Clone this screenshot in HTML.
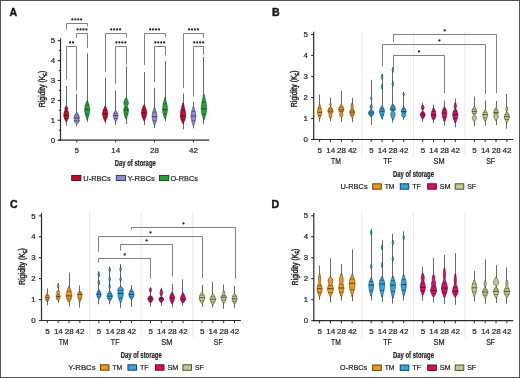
<!DOCTYPE html>
<html><head><meta charset="utf-8"><style>
html,body{margin:0;padding:0;background:#fff;width:520px;height:378px;overflow:hidden}
svg{display:block;will-change:transform}
text{font-family:"Liberation Sans",sans-serif;stroke:#262626;stroke-width:0.22px}
</style></head><body>
<svg width="520" height="378" viewBox="0 0 520 378">
<rect x="0" y="0" width="520" height="378" fill="#ffffff"/>
<line x1="60.5" y1="38.2" x2="60.5" y2="140.8" stroke="#2b2b2b" stroke-width="1.2"/>
<line x1="57.7" y1="140.2" x2="60.5" y2="140.2" stroke="#2b2b2b" stroke-width="1.1"/>
<text x="55" y="142.95" font-size="7.8" text-anchor="end" font-weight="normal" fill="#262626">0</text>
<line x1="57.7" y1="120.3" x2="60.5" y2="120.3" stroke="#2b2b2b" stroke-width="1.1"/>
<text x="55" y="123.05" font-size="7.8" text-anchor="end" font-weight="normal" fill="#262626">1</text>
<line x1="57.7" y1="100.4" x2="60.5" y2="100.4" stroke="#2b2b2b" stroke-width="1.1"/>
<text x="55" y="103.15" font-size="7.8" text-anchor="end" font-weight="normal" fill="#262626">2</text>
<line x1="57.7" y1="80.5" x2="60.5" y2="80.5" stroke="#2b2b2b" stroke-width="1.1"/>
<text x="55" y="83.25" font-size="7.8" text-anchor="end" font-weight="normal" fill="#262626">3</text>
<line x1="57.7" y1="60.6" x2="60.5" y2="60.6" stroke="#2b2b2b" stroke-width="1.1"/>
<text x="55" y="63.35" font-size="7.8" text-anchor="end" font-weight="normal" fill="#262626">4</text>
<line x1="57.7" y1="40.7" x2="60.5" y2="40.7" stroke="#2b2b2b" stroke-width="1.1"/>
<text x="55" y="43.45" font-size="7.8" text-anchor="end" font-weight="normal" fill="#262626">5</text>
<line x1="58.9" y1="130.25" x2="60.5" y2="130.25" stroke="#2b2b2b" stroke-width="1"/>
<line x1="58.9" y1="110.35" x2="60.5" y2="110.35" stroke="#2b2b2b" stroke-width="1"/>
<line x1="58.9" y1="90.45" x2="60.5" y2="90.45" stroke="#2b2b2b" stroke-width="1"/>
<line x1="58.9" y1="70.55" x2="60.5" y2="70.55" stroke="#2b2b2b" stroke-width="1"/>
<line x1="58.9" y1="50.65" x2="60.5" y2="50.65" stroke="#2b2b2b" stroke-width="1"/>
<line x1="58.2" y1="140.2" x2="209.3" y2="140.2" stroke="#2b2b2b" stroke-width="1.2"/>
<line x1="76.75" y1="140.2" x2="76.75" y2="142.4" stroke="#2b2b2b" stroke-width="1"/>
<text x="76.75" y="153.1" font-size="8" text-anchor="middle" font-weight="normal" fill="#262626">5</text>
<line x1="115.65" y1="140.2" x2="115.65" y2="142.4" stroke="#2b2b2b" stroke-width="1"/>
<text x="115.65" y="153.1" font-size="8" text-anchor="middle" font-weight="normal" fill="#262626">14</text>
<line x1="154.55" y1="140.2" x2="154.55" y2="142.4" stroke="#2b2b2b" stroke-width="1"/>
<text x="154.55" y="153.1" font-size="8" text-anchor="middle" font-weight="normal" fill="#262626">28</text>
<line x1="193.45" y1="140.2" x2="193.45" y2="142.4" stroke="#2b2b2b" stroke-width="1"/>
<text x="193.45" y="153.1" font-size="8" text-anchor="middle" font-weight="normal" fill="#262626">42</text>
<text x="135.3" y="165.5" font-size="8.9" text-anchor="middle" font-weight="bold" fill="#262626" textLength="41" lengthAdjust="spacingAndGlyphs">Day of storage</text>
<text transform="translate(45.0,89.0) rotate(-90)" font-size="8.8" text-anchor="middle" fill="#262626" style="stroke-width:0.4px" textLength="36.5" lengthAdjust="spacingAndGlyphs">Rigidity (K<tspan font-size="5" dy="1.5">E</tspan><tspan dy="-1.5">)</tspan></text>
<text x="9.4" y="15.9" font-size="10.6" text-anchor="start" font-weight="bold" fill="#111" style="stroke-width:0.45px">A</text>
<line x1="66.5" y1="86" x2="66.5" y2="125.5" stroke="#585858" stroke-width="0.9"/>
<path d="M66.6,106.1 L66.9,106.6 L67.2,107.1 L67.5,107.6 L67.7,108.1 L67.7,108.6 L67.7,109.1 L67.7,109.6 L67.6,110.1 L67.7,110.6 L67.9,111.1 L68.1,111.6 L68.3,112.1 L68.4,112.6 L68.6,113.1 L68.7,113.6 L68.8,114.1 L68.8,114.6 L68.8,115.1 L68.8,115.6 L68.8,116.1 L68.7,116.6 L68.6,117.1 L68.5,117.6 L68.3,118.1 L68.1,118.6 L67.9,119.1 L67.7,119.6 L67.4,120.1 L67.2,120.6 L67.0,121.1 L66.7,121.6 L65.9,121.6 L65.6,121.1 L65.4,120.6 L65.2,120.1 L64.9,119.6 L64.7,119.1 L64.5,118.6 L64.3,118.1 L64.1,117.6 L64.0,117.1 L63.9,116.6 L63.8,116.1 L63.8,115.6 L63.8,115.1 L63.8,114.6 L63.8,114.1 L63.9,113.6 L64.0,113.1 L64.2,112.6 L64.3,112.1 L64.5,111.6 L64.7,111.1 L64.9,110.6 L65.0,110.1 L64.9,109.6 L64.9,109.1 L64.9,108.6 L64.9,108.1 L65.1,107.6 L65.4,107.1 L65.7,106.6 L66.0,106.1Z" fill="#c40d2c" stroke="#4a0612" stroke-width="0.62" stroke-linejoin="round"/>
<line x1="64.44" y1="111.8" x2="68.16" y2="111.8" stroke="#4a0612" stroke-width="0.55"/>
<line x1="63.75" y1="115.4" x2="68.85" y2="115.4" stroke="#4a0612" stroke-width="0.85"/>
<line x1="64.44" y1="118.55" x2="68.16" y2="118.55" stroke="#4a0612" stroke-width="0.55"/>
<line x1="76.5" y1="93.9" x2="76.5" y2="126.4" stroke="#585858" stroke-width="0.9"/>
<path d="M77.1,112.4 L77.3,112.9 L77.6,113.4 L77.9,113.9 L78.2,114.4 L78.5,114.9 L78.7,115.4 L78.9,115.9 L79.1,116.4 L79.2,116.9 L79.3,117.4 L79.3,117.9 L79.3,118.4 L79.2,118.9 L79.1,119.4 L79.2,119.9 L79.3,120.4 L79.3,120.9 L79.1,121.4 L78.9,121.9 L78.5,122.4 L78.1,122.9 L77.7,123.4 L77.2,123.9 L76.3,123.9 L75.8,123.4 L75.4,122.9 L75.0,122.4 L74.6,121.9 L74.4,121.4 L74.2,120.9 L74.2,120.4 L74.3,119.9 L74.4,119.4 L74.3,118.9 L74.2,118.4 L74.2,117.9 L74.2,117.4 L74.3,116.9 L74.4,116.4 L74.6,115.9 L74.8,115.4 L75.0,114.9 L75.3,114.4 L75.6,113.9 L75.9,113.4 L76.2,112.9 L76.4,112.4Z" fill="#8e8ed6" stroke="#30305a" stroke-width="0.62" stroke-linejoin="round"/>
<line x1="74.89" y1="115.2" x2="78.61" y2="115.2" stroke="#30305a" stroke-width="0.55"/>
<line x1="74.2" y1="117.9" x2="79.3" y2="117.9" stroke="#30305a" stroke-width="0.85"/>
<line x1="74.22" y1="120.83" x2="79.28" y2="120.83" stroke="#30305a" stroke-width="0.55"/>
<line x1="87.5" y1="53.3" x2="87.5" y2="121.9" stroke="#585858" stroke-width="0.9"/>
<path d="M87.6,100.9 L87.7,101.4 L87.9,101.9 L88.1,102.4 L88.3,102.9 L88.4,103.4 L88.6,103.9 L88.8,104.4 L88.9,104.9 L89.1,105.4 L89.2,105.9 L89.3,106.4 L89.4,106.9 L89.5,107.4 L89.6,107.9 L89.6,108.4 L89.6,108.9 L89.6,109.4 L89.6,109.9 L89.6,110.4 L89.6,110.9 L89.5,111.4 L89.5,111.9 L89.4,112.4 L89.3,112.9 L89.2,113.4 L89.1,113.9 L89.0,114.4 L88.8,114.9 L88.7,115.4 L88.6,115.9 L88.4,116.4 L88.3,116.9 L88.1,117.4 L88.0,117.9 L87.8,118.4 L87.7,118.9 L87.6,119.4 L86.8,119.4 L86.7,118.9 L86.6,118.4 L86.4,117.9 L86.3,117.4 L86.1,116.9 L86.0,116.4 L85.8,115.9 L85.7,115.4 L85.6,114.9 L85.4,114.4 L85.3,113.9 L85.2,113.4 L85.1,112.9 L85.0,112.4 L84.9,111.9 L84.9,111.4 L84.8,110.9 L84.8,110.4 L84.8,109.9 L84.7,109.4 L84.8,108.9 L84.8,108.4 L84.8,107.9 L84.9,107.4 L85.0,106.9 L85.1,106.4 L85.2,105.9 L85.3,105.4 L85.5,104.9 L85.6,104.4 L85.8,103.9 L86.0,103.4 L86.1,102.9 L86.3,102.4 L86.5,101.9 L86.7,101.4 L86.8,100.9Z" fill="#22a33a" stroke="#0b4014" stroke-width="0.62" stroke-linejoin="round"/>
<line x1="85.42" y1="105.12" x2="88.98" y2="105.12" stroke="#0b4014" stroke-width="0.55"/>
<line x1="84.75" y1="109.4" x2="89.65" y2="109.4" stroke="#0b4014" stroke-width="0.85"/>
<line x1="85.42" y1="114.35" x2="88.98" y2="114.35" stroke="#0b4014" stroke-width="0.55"/>
<line x1="105.5" y1="77.6" x2="105.5" y2="123.5" stroke="#585858" stroke-width="0.9"/>
<path d="M105.6,106.3 L105.8,106.8 L106.0,107.3 L106.2,107.8 L106.4,108.3 L106.6,108.8 L106.8,109.3 L107.0,109.8 L107.2,110.3 L107.3,110.8 L107.4,111.3 L107.6,111.8 L107.6,112.3 L107.7,112.8 L107.7,113.3 L107.7,113.8 L107.7,114.3 L107.7,114.8 L107.6,115.3 L107.6,115.8 L107.4,116.3 L107.3,116.8 L107.2,117.3 L107.0,117.8 L106.8,118.3 L106.6,118.8 L106.4,119.3 L106.2,119.8 L106.0,120.3 L105.8,120.8 L105.6,121.3 L104.8,121.3 L104.6,120.8 L104.4,120.3 L104.2,119.8 L104.0,119.3 L103.8,118.8 L103.6,118.3 L103.4,117.8 L103.2,117.3 L103.1,116.8 L103.0,116.3 L102.8,115.8 L102.8,115.3 L102.7,114.8 L102.7,114.3 L102.6,113.8 L102.7,113.3 L102.7,112.8 L102.8,112.3 L102.8,111.8 L103.0,111.3 L103.1,110.8 L103.2,110.3 L103.4,109.8 L103.6,109.3 L103.8,108.8 L104.0,108.3 L104.2,107.8 L104.4,107.3 L104.6,106.8 L104.8,106.3Z" fill="#c40d2c" stroke="#4a0612" stroke-width="0.62" stroke-linejoin="round"/>
<line x1="103.34" y1="109.97" x2="107.06" y2="109.97" stroke="#4a0612" stroke-width="0.55"/>
<line x1="102.65" y1="113.8" x2="107.75" y2="113.8" stroke="#4a0612" stroke-width="0.85"/>
<line x1="103.34" y1="117.62" x2="107.06" y2="117.62" stroke="#4a0612" stroke-width="0.55"/>
<line x1="115.5" y1="90.6" x2="115.5" y2="124.9" stroke="#585858" stroke-width="0.9"/>
<path d="M116.0,110.6 L116.2,111.1 L116.5,111.6 L116.8,112.1 L117.1,112.6 L117.3,113.1 L117.6,113.6 L117.8,114.1 L117.9,114.6 L118.0,115.1 L118.0,115.6 L118.0,116.1 L117.9,116.6 L117.8,117.1 L117.7,117.6 L117.5,118.1 L117.3,118.6 L117.1,119.1 L116.9,119.6 L116.6,120.1 L116.4,120.6 L116.2,121.1 L116.0,121.6 L115.3,121.6 L115.1,121.1 L114.9,120.6 L114.7,120.1 L114.4,119.6 L114.2,119.1 L114.0,118.6 L113.8,118.1 L113.6,117.6 L113.5,117.1 L113.4,116.6 L113.3,116.1 L113.3,115.6 L113.3,115.1 L113.4,114.6 L113.5,114.1 L113.7,113.6 L114.0,113.1 L114.2,112.6 L114.5,112.1 L114.8,111.6 L115.1,111.1 L115.3,110.6Z" fill="#8e8ed6" stroke="#30305a" stroke-width="0.62" stroke-linejoin="round"/>
<line x1="113.94" y1="113.12" x2="117.36" y2="113.12" stroke="#30305a" stroke-width="0.55"/>
<line x1="113.3" y1="115.6" x2="118" y2="115.6" stroke="#30305a" stroke-width="0.85"/>
<line x1="113.94" y1="118.52" x2="117.36" y2="118.52" stroke="#30305a" stroke-width="0.55"/>
<line x1="126.5" y1="66.5" x2="126.5" y2="124" stroke="#585858" stroke-width="0.9"/>
<path d="M126.6,98.0 L126.8,98.5 L127.0,99.0 L127.3,99.5 L127.5,100.0 L127.7,100.5 L127.9,101.0 L128.1,101.5 L128.2,102.0 L128.3,102.5 L128.3,103.0 L128.3,103.5 L128.3,104.0 L128.2,104.5 L127.9,105.0 L127.6,105.5 L127.3,106.0 L127.2,106.5 L127.4,107.0 L127.7,107.5 L127.9,108.0 L128.2,108.5 L128.3,109.0 L128.4,109.5 L128.4,110.0 L128.4,110.5 L128.4,111.0 L128.4,111.5 L128.3,112.0 L128.2,112.5 L128.2,113.0 L128.1,113.5 L127.9,114.0 L127.8,114.5 L127.7,115.0 L127.5,115.5 L127.4,116.0 L127.2,116.5 L127.1,117.0 L126.9,117.5 L126.8,118.0 L126.6,118.5 L126.5,119.0 L125.7,119.0 L125.6,118.5 L125.4,118.0 L125.3,117.5 L125.1,117.0 L125.0,116.5 L124.8,116.0 L124.7,115.5 L124.5,115.0 L124.4,114.5 L124.3,114.0 L124.1,113.5 L124.0,113.0 L124.0,112.5 L123.9,112.0 L123.8,111.5 L123.8,111.0 L123.8,110.5 L123.8,110.0 L123.8,109.5 L123.9,109.0 L124.0,108.5 L124.3,108.0 L124.5,107.5 L124.8,107.0 L125.0,106.5 L124.9,106.0 L124.6,105.5 L124.3,105.0 L124.0,104.5 L123.9,104.0 L123.8,103.5 L123.9,103.0 L123.9,102.5 L124.0,102.0 L124.1,101.5 L124.3,101.0 L124.5,100.5 L124.7,100.0 L124.9,99.5 L125.2,99.0 L125.4,98.5 L125.6,98.0Z" fill="#22a33a" stroke="#0b4014" stroke-width="0.62" stroke-linejoin="round"/>
<line x1="124.39" y1="107.75" x2="127.81" y2="107.75" stroke="#0b4014" stroke-width="0.55"/>
<line x1="123.75" y1="110" x2="128.45" y2="110" stroke="#0b4014" stroke-width="0.85"/>
<line x1="124.39" y1="114.5" x2="127.81" y2="114.5" stroke="#0b4014" stroke-width="0.55"/>
<line x1="144.5" y1="72" x2="144.5" y2="125.2" stroke="#585858" stroke-width="0.9"/>
<path d="M144.5,105.1 L144.7,105.6 L144.9,106.1 L145.1,106.6 L145.3,107.1 L145.4,107.6 L145.6,108.1 L145.8,108.6 L146.0,109.1 L146.1,109.6 L146.3,110.1 L146.4,110.6 L146.5,111.1 L146.5,111.6 L146.6,112.1 L146.6,112.6 L146.7,113.1 L146.6,113.6 L146.6,114.1 L146.5,114.6 L146.5,115.1 L146.3,115.6 L146.2,116.1 L146.1,116.6 L145.9,117.1 L145.7,117.6 L145.5,118.1 L145.3,118.6 L145.1,119.1 L144.9,119.6 L144.7,120.1 L144.5,120.6 L143.7,120.6 L143.5,120.1 L143.3,119.6 L143.1,119.1 L142.9,118.6 L142.7,118.1 L142.5,117.6 L142.3,117.1 L142.1,116.6 L142.0,116.1 L141.9,115.6 L141.7,115.1 L141.7,114.6 L141.6,114.1 L141.6,113.6 L141.5,113.1 L141.6,112.6 L141.6,112.1 L141.7,111.6 L141.7,111.1 L141.8,110.6 L141.9,110.1 L142.1,109.6 L142.2,109.1 L142.4,108.6 L142.6,108.1 L142.8,107.6 L142.9,107.1 L143.1,106.6 L143.3,106.1 L143.5,105.6 L143.7,105.1Z" fill="#c40d2c" stroke="#4a0612" stroke-width="0.62" stroke-linejoin="round"/>
<line x1="142.24" y1="109.05" x2="145.96" y2="109.05" stroke="#4a0612" stroke-width="0.55"/>
<line x1="141.55" y1="113.1" x2="146.65" y2="113.1" stroke="#4a0612" stroke-width="0.85"/>
<line x1="142.24" y1="116.92" x2="145.96" y2="116.92" stroke="#4a0612" stroke-width="0.55"/>
<line x1="154.5" y1="88.1" x2="154.5" y2="128.2" stroke="#585858" stroke-width="0.9"/>
<path d="M154.9,107.6 L155.1,108.1 L155.2,108.6 L155.4,109.1 L155.5,109.6 L155.7,110.1 L155.8,110.6 L156.0,111.1 L156.1,111.6 L156.3,112.1 L156.4,112.6 L156.5,113.1 L156.6,113.6 L156.7,114.1 L156.8,114.6 L156.8,115.1 L156.9,115.6 L156.9,116.1 L156.9,116.6 L156.9,117.1 L156.9,117.6 L156.8,118.1 L156.8,118.6 L156.7,119.1 L156.6,119.6 L156.5,120.1 L156.3,120.6 L156.2,121.1 L156.0,121.6 L155.9,122.1 L155.7,122.6 L155.6,123.1 L155.4,123.6 L155.2,124.1 L155.1,124.6 L154.9,125.1 L154.2,125.1 L154.0,124.6 L153.9,124.1 L153.7,123.6 L153.5,123.1 L153.4,122.6 L153.2,122.1 L153.1,121.6 L152.9,121.1 L152.8,120.6 L152.6,120.1 L152.5,119.6 L152.4,119.1 L152.3,118.6 L152.3,118.1 L152.2,117.6 L152.2,117.1 L152.2,116.6 L152.2,116.1 L152.2,115.6 L152.3,115.1 L152.3,114.6 L152.4,114.1 L152.5,113.6 L152.6,113.1 L152.7,112.6 L152.8,112.1 L153.0,111.6 L153.1,111.1 L153.3,110.6 L153.4,110.1 L153.6,109.6 L153.7,109.1 L153.9,108.6 L154.0,108.1 L154.2,107.6Z" fill="#8e8ed6" stroke="#30305a" stroke-width="0.62" stroke-linejoin="round"/>
<line x1="152.84" y1="112.1" x2="156.26" y2="112.1" stroke="#30305a" stroke-width="0.55"/>
<line x1="152.2" y1="116.6" x2="156.9" y2="116.6" stroke="#30305a" stroke-width="0.85"/>
<line x1="152.84" y1="120.88" x2="156.26" y2="120.88" stroke="#30305a" stroke-width="0.55"/>
<line x1="165.5" y1="61.3" x2="165.5" y2="121.2" stroke="#585858" stroke-width="0.9"/>
<path d="M165.3,97.6 L165.4,98.1 L165.5,98.6 L165.6,99.1 L165.7,99.6 L165.9,100.1 L166.0,100.6 L166.1,101.1 L166.2,101.6 L166.3,102.1 L166.5,102.6 L166.6,103.1 L166.7,103.6 L166.8,104.1 L166.9,104.6 L167.0,105.1 L167.0,105.6 L167.1,106.1 L167.2,106.6 L167.2,107.1 L167.3,107.6 L167.3,108.1 L167.3,108.6 L167.3,109.1 L167.3,109.6 L167.3,110.1 L167.3,110.6 L167.3,111.1 L167.2,111.6 L167.1,112.1 L167.1,112.6 L167.0,113.1 L166.8,113.6 L166.7,114.1 L166.6,114.6 L166.4,115.1 L166.3,115.6 L166.1,116.1 L166.0,116.6 L165.8,117.1 L165.7,117.6 L165.5,118.1 L165.4,118.6 L164.6,118.6 L164.5,118.1 L164.3,117.6 L164.2,117.1 L164.0,116.6 L163.9,116.1 L163.7,115.6 L163.6,115.1 L163.4,114.6 L163.3,114.1 L163.2,113.6 L163.0,113.1 L162.9,112.6 L162.9,112.1 L162.8,111.6 L162.7,111.1 L162.7,110.6 L162.7,110.1 L162.7,109.6 L162.7,109.1 L162.7,108.6 L162.7,108.1 L162.7,107.6 L162.8,107.1 L162.8,106.6 L162.9,106.1 L163.0,105.6 L163.0,105.1 L163.1,104.6 L163.2,104.1 L163.3,103.6 L163.4,103.1 L163.5,102.6 L163.7,102.1 L163.8,101.6 L163.9,101.1 L164.0,100.6 L164.1,100.1 L164.3,99.6 L164.4,99.1 L164.5,98.6 L164.6,98.1 L164.7,97.6Z" fill="#22a33a" stroke="#0b4014" stroke-width="0.62" stroke-linejoin="round"/>
<line x1="163.29" y1="103.75" x2="166.71" y2="103.75" stroke="#0b4014" stroke-width="0.55"/>
<line x1="162.65" y1="109.6" x2="167.35" y2="109.6" stroke="#0b4014" stroke-width="0.85"/>
<line x1="163.29" y1="114.1" x2="166.71" y2="114.1" stroke="#0b4014" stroke-width="0.55"/>
<line x1="183.5" y1="93.5" x2="183.5" y2="129.4" stroke="#585858" stroke-width="0.9"/>
<path d="M183.3,103.1 L183.4,103.6 L183.5,104.1 L183.7,104.6 L183.8,105.1 L183.9,105.6 L184.0,106.1 L184.2,106.6 L184.3,107.1 L184.4,107.6 L184.5,108.1 L184.7,108.6 L184.8,109.1 L184.9,109.6 L185.0,110.1 L185.1,110.6 L185.2,111.1 L185.3,111.6 L185.3,112.1 L185.4,112.6 L185.5,113.1 L185.5,113.6 L185.6,114.1 L185.6,114.6 L185.6,115.1 L185.6,115.6 L185.7,116.1 L185.6,116.6 L185.6,117.1 L185.5,117.6 L185.4,118.1 L185.3,118.6 L185.1,119.1 L185.0,119.6 L184.8,120.1 L184.6,120.6 L184.4,121.1 L184.1,121.6 L183.9,122.1 L183.7,122.6 L183.5,123.1 L183.3,123.6 L182.7,123.6 L182.5,123.1 L182.3,122.6 L182.1,122.1 L181.9,121.6 L181.6,121.1 L181.4,120.6 L181.2,120.1 L181.0,119.6 L180.9,119.1 L180.7,118.6 L180.6,118.1 L180.5,117.6 L180.4,117.1 L180.4,116.6 L180.3,116.1 L180.4,115.6 L180.4,115.1 L180.4,114.6 L180.4,114.1 L180.5,113.6 L180.5,113.1 L180.6,112.6 L180.7,112.1 L180.7,111.6 L180.8,111.1 L180.9,110.6 L181.0,110.1 L181.1,109.6 L181.2,109.1 L181.3,108.6 L181.5,108.1 L181.6,107.6 L181.7,107.1 L181.8,106.6 L182.0,106.1 L182.1,105.6 L182.2,105.1 L182.3,104.6 L182.5,104.1 L182.6,103.6 L182.7,103.1Z" fill="#c40d2c" stroke="#4a0612" stroke-width="0.62" stroke-linejoin="round"/>
<line x1="181.07" y1="109.8" x2="184.93" y2="109.8" stroke="#4a0612" stroke-width="0.55"/>
<line x1="180.35" y1="116.1" x2="185.65" y2="116.1" stroke="#4a0612" stroke-width="0.85"/>
<line x1="181.07" y1="119.7" x2="184.93" y2="119.7" stroke="#4a0612" stroke-width="0.55"/>
<line x1="193.5" y1="101.6" x2="193.5" y2="128.3" stroke="#585858" stroke-width="0.9"/>
<path d="M193.8,106.6 L193.9,107.1 L194.1,107.6 L194.2,108.1 L194.4,108.6 L194.5,109.1 L194.7,109.6 L194.8,110.1 L195.0,110.6 L195.1,111.1 L195.2,111.6 L195.3,112.1 L195.4,112.6 L195.5,113.1 L195.6,113.6 L195.7,114.1 L195.7,114.6 L195.8,115.1 L195.8,115.6 L195.8,116.1 L195.8,116.6 L195.8,117.1 L195.7,117.6 L195.7,118.1 L195.6,118.6 L195.5,119.1 L195.4,119.6 L195.3,120.1 L195.2,120.6 L195.1,121.1 L195.0,121.6 L194.8,122.1 L194.7,122.6 L194.5,123.1 L194.4,123.6 L194.2,124.1 L194.1,124.6 L193.9,125.1 L193.8,125.6 L193.1,125.6 L193.0,125.1 L192.8,124.6 L192.7,124.1 L192.5,123.6 L192.4,123.1 L192.2,122.6 L192.1,122.1 L191.9,121.6 L191.8,121.1 L191.7,120.6 L191.6,120.1 L191.5,119.6 L191.4,119.1 L191.3,118.6 L191.2,118.1 L191.2,117.6 L191.1,117.1 L191.1,116.6 L191.1,116.1 L191.1,115.6 L191.1,115.1 L191.2,114.6 L191.2,114.1 L191.3,113.6 L191.4,113.1 L191.5,112.6 L191.6,112.1 L191.7,111.6 L191.8,111.1 L191.9,110.6 L192.1,110.1 L192.2,109.6 L192.4,109.1 L192.5,108.6 L192.7,108.1 L192.8,107.6 L193.0,107.1 L193.1,106.6Z" fill="#8e8ed6" stroke="#30305a" stroke-width="0.62" stroke-linejoin="round"/>
<line x1="191.74" y1="111.38" x2="195.16" y2="111.38" stroke="#30305a" stroke-width="0.55"/>
<line x1="191.1" y1="116.1" x2="195.8" y2="116.1" stroke="#30305a" stroke-width="0.85"/>
<line x1="191.74" y1="120.82" x2="195.16" y2="120.82" stroke="#30305a" stroke-width="0.55"/>
<line x1="203.5" y1="57" x2="203.5" y2="124.4" stroke="#585858" stroke-width="0.9"/>
<path d="M204.2,94.4 L204.3,94.9 L204.4,95.4 L204.5,95.9 L204.6,96.4 L204.7,96.9 L204.8,97.4 L205.0,97.9 L205.1,98.4 L205.2,98.9 L205.3,99.4 L205.4,99.9 L205.5,100.4 L205.6,100.9 L205.7,101.4 L205.8,101.9 L205.9,102.4 L206.0,102.9 L206.1,103.4 L206.2,103.9 L206.2,104.4 L206.3,104.9 L206.4,105.4 L206.4,105.9 L206.5,106.4 L206.5,106.9 L206.5,107.4 L206.5,107.9 L206.5,108.4 L206.6,108.9 L206.5,109.4 L206.5,109.9 L206.5,110.4 L206.4,110.9 L206.4,111.4 L206.3,111.9 L206.2,112.4 L206.1,112.9 L206.0,113.4 L205.9,113.9 L205.7,114.4 L205.6,114.9 L205.5,115.4 L205.3,115.9 L205.2,116.4 L205.0,116.9 L204.8,117.4 L204.7,117.9 L204.5,118.4 L204.4,118.9 L204.3,119.4 L203.5,119.4 L203.4,118.9 L203.3,118.4 L203.1,117.9 L203.0,117.4 L202.8,116.9 L202.6,116.4 L202.5,115.9 L202.3,115.4 L202.2,114.9 L202.1,114.4 L201.9,113.9 L201.8,113.4 L201.7,112.9 L201.6,112.4 L201.5,111.9 L201.4,111.4 L201.4,110.9 L201.3,110.4 L201.3,109.9 L201.3,109.4 L201.2,108.9 L201.3,108.4 L201.3,107.9 L201.3,107.4 L201.3,106.9 L201.3,106.4 L201.4,105.9 L201.4,105.4 L201.5,104.9 L201.6,104.4 L201.6,103.9 L201.7,103.4 L201.8,102.9 L201.9,102.4 L202.0,101.9 L202.1,101.4 L202.2,100.9 L202.3,100.4 L202.4,99.9 L202.5,99.4 L202.6,98.9 L202.7,98.4 L202.8,97.9 L203.0,97.4 L203.1,96.9 L203.2,96.4 L203.3,95.9 L203.4,95.4 L203.5,94.9 L203.6,94.4Z" fill="#22a33a" stroke="#0b4014" stroke-width="0.62" stroke-linejoin="round"/>
<line x1="201.97" y1="101.93" x2="205.83" y2="101.93" stroke="#0b4014" stroke-width="0.55"/>
<line x1="201.25" y1="108.9" x2="206.55" y2="108.9" stroke="#0b4014" stroke-width="0.85"/>
<line x1="201.97" y1="114.08" x2="205.83" y2="114.08" stroke="#0b4014" stroke-width="0.55"/>
<path d="M66.5,29.4 V23.5 H87.5 V26.3" fill="none" stroke="#7a7a7a" stroke-width="0.95"/>
<circle cx="72.33" cy="19.4" r="1.12" fill="#222"/>
<circle cx="75.28" cy="19.4" r="1.12" fill="#222"/>
<circle cx="78.22" cy="19.4" r="1.12" fill="#222"/>
<circle cx="81.17" cy="19.4" r="1.12" fill="#222"/>
<path d="M76.5,37.9 V33.5 H87.5 V47.8" fill="none" stroke="#7a7a7a" stroke-width="0.95"/>
<circle cx="77.55" cy="29.4" r="1.12" fill="#222"/>
<circle cx="80.5" cy="29.4" r="1.12" fill="#222"/>
<circle cx="83.45" cy="29.4" r="1.12" fill="#222"/>
<circle cx="86.4" cy="29.4" r="1.12" fill="#222"/>
<path d="M66.5,79.4 V46.5 H76.5 V90.6" fill="none" stroke="#7a7a7a" stroke-width="0.95"/>
<circle cx="70.05" cy="42.4" r="1.12" fill="#222"/>
<circle cx="73" cy="42.4" r="1.12" fill="#222"/>
<path d="M105.5,72 V33.5 H126.5 V37.5" fill="none" stroke="#7a7a7a" stroke-width="0.95"/>
<circle cx="111.22" cy="29.4" r="1.12" fill="#222"/>
<circle cx="114.17" cy="29.4" r="1.12" fill="#222"/>
<circle cx="117.12" cy="29.4" r="1.12" fill="#222"/>
<circle cx="120.07" cy="29.4" r="1.12" fill="#222"/>
<path d="M115.5,84 V46.5 H126.5 V64.6" fill="none" stroke="#7a7a7a" stroke-width="0.95"/>
<circle cx="116.45" cy="42.4" r="1.12" fill="#222"/>
<circle cx="119.4" cy="42.4" r="1.12" fill="#222"/>
<circle cx="122.35" cy="42.4" r="1.12" fill="#222"/>
<circle cx="125.3" cy="42.4" r="1.12" fill="#222"/>
<path d="M144.5,64.9 V33.5 H165.5 V37.5" fill="none" stroke="#7a7a7a" stroke-width="0.95"/>
<circle cx="150.12" cy="29.4" r="1.12" fill="#222"/>
<circle cx="153.08" cy="29.4" r="1.12" fill="#222"/>
<circle cx="156.03" cy="29.4" r="1.12" fill="#222"/>
<circle cx="158.98" cy="29.4" r="1.12" fill="#222"/>
<path d="M154.5,82.1 V46.5 H165.5 V55.4" fill="none" stroke="#7a7a7a" stroke-width="0.95"/>
<circle cx="155.35" cy="42.4" r="1.12" fill="#222"/>
<circle cx="158.3" cy="42.4" r="1.12" fill="#222"/>
<circle cx="161.25" cy="42.4" r="1.12" fill="#222"/>
<circle cx="164.2" cy="42.4" r="1.12" fill="#222"/>
<path d="M183.5,88.1 V33.5 H203.5 V37.5" fill="none" stroke="#7a7a7a" stroke-width="0.95"/>
<circle cx="189.02" cy="29.4" r="1.12" fill="#222"/>
<circle cx="191.97" cy="29.4" r="1.12" fill="#222"/>
<circle cx="194.92" cy="29.4" r="1.12" fill="#222"/>
<circle cx="197.88" cy="29.4" r="1.12" fill="#222"/>
<path d="M193.5,96.5 V46.5 H203.5 V54.8" fill="none" stroke="#7a7a7a" stroke-width="0.95"/>
<circle cx="194.25" cy="42.4" r="1.12" fill="#222"/>
<circle cx="197.2" cy="42.4" r="1.12" fill="#222"/>
<circle cx="200.15" cy="42.4" r="1.12" fill="#222"/>
<circle cx="203.1" cy="42.4" r="1.12" fill="#222"/>
<rect x="71.7" y="175.4" width="9.2" height="5.1" fill="#c40d2c" stroke="#4a0612" stroke-width="0.9"/>
<text x="83.3" y="180.5" font-size="7.7" text-anchor="start" font-weight="normal" fill="#262626" textLength="27.4" lengthAdjust="spacingAndGlyphs">U-RBCs</text>
<rect x="116.3" y="175.4" width="9.2" height="5.1" fill="#8e8ed6" stroke="#30305a" stroke-width="0.9"/>
<text x="127.5" y="180.5" font-size="7.7" text-anchor="start" font-weight="normal" fill="#262626" textLength="27.4" lengthAdjust="spacingAndGlyphs">Y-RBCs</text>
<rect x="159.5" y="175.4" width="9.2" height="5.1" fill="#22a33a" stroke="#0b4014" stroke-width="0.9"/>
<text x="170.5" y="180.5" font-size="7.7" text-anchor="start" font-weight="normal" fill="#262626" textLength="27.4" lengthAdjust="spacingAndGlyphs">O-RBCs</text>
<line x1="361.9" y1="31.8" x2="361.9" y2="156.5" stroke="#ebebeb" stroke-width="1.1"/>
<line x1="413.47" y1="31.8" x2="413.47" y2="156.5" stroke="#ebebeb" stroke-width="1.1"/>
<line x1="465.04" y1="31.8" x2="465.04" y2="156.5" stroke="#ebebeb" stroke-width="1.1"/>
<line x1="313.7" y1="31.8" x2="313.7" y2="140.1" stroke="#2b2b2b" stroke-width="1.2"/>
<line x1="311.1" y1="139.5" x2="313.7" y2="139.5" stroke="#2b2b2b" stroke-width="1.1"/>
<text x="307.9" y="142.25" font-size="7.8" text-anchor="end" font-weight="normal" fill="#262626">0</text>
<line x1="311.1" y1="118.5" x2="313.7" y2="118.5" stroke="#2b2b2b" stroke-width="1.1"/>
<text x="307.9" y="121.25" font-size="7.8" text-anchor="end" font-weight="normal" fill="#262626">1</text>
<line x1="311.1" y1="97.5" x2="313.7" y2="97.5" stroke="#2b2b2b" stroke-width="1.1"/>
<text x="307.9" y="100.25" font-size="7.8" text-anchor="end" font-weight="normal" fill="#262626">2</text>
<line x1="311.1" y1="76.5" x2="313.7" y2="76.5" stroke="#2b2b2b" stroke-width="1.1"/>
<text x="307.9" y="79.25" font-size="7.8" text-anchor="end" font-weight="normal" fill="#262626">3</text>
<line x1="311.1" y1="55.5" x2="313.7" y2="55.5" stroke="#2b2b2b" stroke-width="1.1"/>
<text x="307.9" y="58.25" font-size="7.8" text-anchor="end" font-weight="normal" fill="#262626">4</text>
<line x1="311.1" y1="34.5" x2="313.7" y2="34.5" stroke="#2b2b2b" stroke-width="1.1"/>
<text x="307.9" y="37.25" font-size="7.8" text-anchor="end" font-weight="normal" fill="#262626">5</text>
<line x1="313.1" y1="139.5" x2="513.2" y2="139.5" stroke="#2b2b2b" stroke-width="1.2"/>
<line x1="319.6" y1="139.5" x2="319.6" y2="142.1" stroke="#2b2b2b" stroke-width="1"/>
<text x="319.8" y="152.5" font-size="8" text-anchor="middle" font-weight="normal" fill="#262626">5</text>
<line x1="330.45" y1="139.5" x2="330.45" y2="142.1" stroke="#2b2b2b" stroke-width="1"/>
<text x="330.65" y="152.5" font-size="8" text-anchor="middle" font-weight="normal" fill="#262626">14</text>
<line x1="341.3" y1="139.5" x2="341.3" y2="142.1" stroke="#2b2b2b" stroke-width="1"/>
<text x="341.5" y="152.5" font-size="8" text-anchor="middle" font-weight="normal" fill="#262626">28</text>
<line x1="352.15" y1="139.5" x2="352.15" y2="142.1" stroke="#2b2b2b" stroke-width="1"/>
<text x="352.35" y="152.5" font-size="8" text-anchor="middle" font-weight="normal" fill="#262626">42</text>
<text x="335.9" y="164" font-size="8.4" text-anchor="middle" font-weight="normal" fill="#262626" textLength="9.8" lengthAdjust="spacingAndGlyphs">TM</text>
<line x1="371.17" y1="139.5" x2="371.17" y2="142.1" stroke="#2b2b2b" stroke-width="1"/>
<text x="371.37" y="152.5" font-size="8" text-anchor="middle" font-weight="normal" fill="#262626">5</text>
<line x1="382.02" y1="139.5" x2="382.02" y2="142.1" stroke="#2b2b2b" stroke-width="1"/>
<text x="382.22" y="152.5" font-size="8" text-anchor="middle" font-weight="normal" fill="#262626">14</text>
<line x1="392.87" y1="139.5" x2="392.87" y2="142.1" stroke="#2b2b2b" stroke-width="1"/>
<text x="393.07" y="152.5" font-size="8" text-anchor="middle" font-weight="normal" fill="#262626">28</text>
<line x1="403.72" y1="139.5" x2="403.72" y2="142.1" stroke="#2b2b2b" stroke-width="1"/>
<text x="403.92" y="152.5" font-size="8" text-anchor="middle" font-weight="normal" fill="#262626">42</text>
<text x="387.47" y="164" font-size="8.4" text-anchor="middle" font-weight="normal" fill="#262626" textLength="8.6" lengthAdjust="spacingAndGlyphs">TF</text>
<line x1="422.74" y1="139.5" x2="422.74" y2="142.1" stroke="#2b2b2b" stroke-width="1"/>
<text x="422.94" y="152.5" font-size="8" text-anchor="middle" font-weight="normal" fill="#262626">5</text>
<line x1="433.59" y1="139.5" x2="433.59" y2="142.1" stroke="#2b2b2b" stroke-width="1"/>
<text x="433.79" y="152.5" font-size="8" text-anchor="middle" font-weight="normal" fill="#262626">14</text>
<line x1="444.44" y1="139.5" x2="444.44" y2="142.1" stroke="#2b2b2b" stroke-width="1"/>
<text x="444.64" y="152.5" font-size="8" text-anchor="middle" font-weight="normal" fill="#262626">28</text>
<line x1="455.29" y1="139.5" x2="455.29" y2="142.1" stroke="#2b2b2b" stroke-width="1"/>
<text x="455.49" y="152.5" font-size="8" text-anchor="middle" font-weight="normal" fill="#262626">42</text>
<text x="439.04" y="164" font-size="8.4" text-anchor="middle" font-weight="normal" fill="#262626" textLength="11" lengthAdjust="spacingAndGlyphs">SM</text>
<line x1="474.31" y1="139.5" x2="474.31" y2="142.1" stroke="#2b2b2b" stroke-width="1"/>
<text x="474.51" y="152.5" font-size="8" text-anchor="middle" font-weight="normal" fill="#262626">5</text>
<line x1="485.16" y1="139.5" x2="485.16" y2="142.1" stroke="#2b2b2b" stroke-width="1"/>
<text x="485.36" y="152.5" font-size="8" text-anchor="middle" font-weight="normal" fill="#262626">14</text>
<line x1="496.01" y1="139.5" x2="496.01" y2="142.1" stroke="#2b2b2b" stroke-width="1"/>
<text x="496.21" y="152.5" font-size="8" text-anchor="middle" font-weight="normal" fill="#262626">28</text>
<line x1="506.86" y1="139.5" x2="506.86" y2="142.1" stroke="#2b2b2b" stroke-width="1"/>
<text x="507.06" y="152.5" font-size="8" text-anchor="middle" font-weight="normal" fill="#262626">42</text>
<text x="490.61" y="164" font-size="8.4" text-anchor="middle" font-weight="normal" fill="#262626" textLength="8.9" lengthAdjust="spacingAndGlyphs">SF</text>
<text x="413.5" y="177.2" font-size="8.9" text-anchor="middle" font-weight="bold" fill="#262626" textLength="41" lengthAdjust="spacingAndGlyphs">Day of storage</text>
<text transform="translate(297.4,88.8) rotate(-90)" font-size="8.8" text-anchor="middle" fill="#262626" style="stroke-width:0.4px" textLength="36.8" lengthAdjust="spacingAndGlyphs">Rigidity (K<tspan font-size="5" dy="1.5">E</tspan><tspan dy="-1.5">)</tspan></text>
<text x="271.9" y="15.6" font-size="10.6" text-anchor="start" font-weight="bold" fill="#111" style="stroke-width:0.45px">B</text>
<line x1="319.5" y1="94.5" x2="319.5" y2="121.7" stroke="#585858" stroke-width="0.9"/>
<path d="M319.9,104.3 L320.1,104.8 L320.2,105.3 L320.4,105.8 L320.5,106.3 L320.7,106.8 L320.8,107.3 L321.0,107.8 L321.1,108.3 L321.2,108.8 L321.3,109.3 L321.4,109.8 L321.5,110.3 L321.6,110.8 L321.6,111.3 L321.6,111.8 L321.7,112.3 L321.6,112.8 L321.6,113.3 L321.5,113.8 L321.4,114.3 L321.3,114.8 L321.1,115.3 L321.0,115.8 L320.8,116.3 L320.6,116.8 L320.4,117.3 L320.2,117.8 L320.0,118.3 L319.2,118.3 L319.0,117.8 L318.8,117.3 L318.6,116.8 L318.4,116.3 L318.2,115.8 L318.1,115.3 L317.9,114.8 L317.8,114.3 L317.7,113.8 L317.6,113.3 L317.6,112.8 L317.6,112.3 L317.6,111.8 L317.6,111.3 L317.6,110.8 L317.7,110.3 L317.8,109.8 L317.9,109.3 L318.0,108.8 L318.1,108.3 L318.2,107.8 L318.4,107.3 L318.5,106.8 L318.7,106.3 L318.8,105.8 L319.0,105.3 L319.1,104.8 L319.3,104.3Z" fill="#eb9a1e" stroke="#5a3000" stroke-width="0.62" stroke-linejoin="round"/>
<line x1="318.11" y1="108.25" x2="321.09" y2="108.25" stroke="#5a3000" stroke-width="0.55"/>
<line x1="317.55" y1="112.3" x2="321.65" y2="112.3" stroke="#5a3000" stroke-width="0.85"/>
<line x1="318.11" y1="115.45" x2="321.09" y2="115.45" stroke="#5a3000" stroke-width="0.55"/>
<line x1="330.5" y1="97.5" x2="330.5" y2="121.2" stroke="#585858" stroke-width="0.9"/>
<path d="M330.45,103 L331.65,104.5 L330.45,106 L329.25,104.5Z" fill="#eb9a1e" stroke="#5a3000" stroke-width="0.5"/>
<path d="M330.8,106.6 L331.2,107.1 L331.5,107.6 L331.8,108.1 L332.2,108.6 L332.4,109.1 L332.7,109.6 L332.9,110.1 L333.0,110.6 L333.0,111.1 L332.9,111.6 L332.8,112.1 L332.5,112.6 L332.2,113.1 L331.8,113.6 L331.6,114.1 L331.7,114.6 L331.8,115.1 L331.8,115.6 L331.8,116.1 L331.7,116.6 L331.5,117.1 L331.3,117.6 L331.1,118.1 L330.9,118.6 L330.0,118.6 L329.8,118.1 L329.6,117.6 L329.4,117.1 L329.2,116.6 L329.1,116.1 L329.1,115.6 L329.1,115.1 L329.2,114.6 L329.3,114.1 L329.1,113.6 L328.7,113.1 L328.4,112.6 L328.1,112.1 L328.0,111.6 L327.9,111.1 L327.9,110.6 L328.0,110.1 L328.2,109.6 L328.5,109.1 L328.7,108.6 L329.1,108.1 L329.4,107.6 L329.7,107.1 L330.1,106.6Z" fill="#eb9a1e" stroke="#5a3000" stroke-width="0.62" stroke-linejoin="round"/>
<line x1="328.59" y1="108.85" x2="332.31" y2="108.85" stroke="#5a3000" stroke-width="0.55"/>
<line x1="327.9" y1="111.1" x2="333" y2="111.1" stroke="#5a3000" stroke-width="0.85"/>
<line x1="328.59" y1="112.9" x2="332.31" y2="112.9" stroke="#5a3000" stroke-width="0.55"/>
<line x1="341.5" y1="90.5" x2="341.5" y2="121.7" stroke="#585858" stroke-width="0.9"/>
<path d="M341.6,104.3 L341.9,104.8 L342.2,105.3 L342.5,105.8 L342.7,106.3 L343.0,106.8 L343.3,107.3 L343.5,107.8 L343.6,108.3 L343.7,108.8 L343.8,109.3 L343.9,109.8 L343.8,110.3 L343.6,110.8 L343.4,111.3 L343.0,111.8 L342.7,112.3 L342.5,112.8 L342.7,113.3 L342.9,113.8 L343.0,114.3 L343.0,114.8 L342.9,115.3 L342.7,115.8 L342.4,116.3 L342.1,116.8 L341.8,117.3 L340.8,117.3 L340.5,116.8 L340.2,116.3 L339.9,115.8 L339.7,115.3 L339.6,114.8 L339.6,114.3 L339.7,113.8 L339.9,113.3 L340.1,112.8 L339.9,112.3 L339.6,111.8 L339.2,111.3 L339.0,110.8 L338.8,110.3 L338.8,109.8 L338.8,109.3 L338.9,108.8 L339.0,108.3 L339.1,107.8 L339.3,107.3 L339.6,106.8 L339.9,106.3 L340.1,105.8 L340.4,105.3 L340.7,104.8 L341.0,104.3Z" fill="#eb9a1e" stroke="#5a3000" stroke-width="0.62" stroke-linejoin="round"/>
<line x1="339.44" y1="107.1" x2="343.16" y2="107.1" stroke="#5a3000" stroke-width="0.55"/>
<line x1="338.75" y1="109.8" x2="343.85" y2="109.8" stroke="#5a3000" stroke-width="0.85"/>
<line x1="339.44" y1="111.6" x2="343.16" y2="111.6" stroke="#5a3000" stroke-width="0.55"/>
<line x1="352.5" y1="98" x2="352.5" y2="122.2" stroke="#585858" stroke-width="0.9"/>
<path d="M352.5,103.0 L352.6,103.5 L352.7,104.0 L352.9,104.5 L353.0,105.0 L353.1,105.5 L353.2,106.0 L353.2,106.5 L353.3,107.0 L353.2,107.5 L353.1,108.0 L353.0,108.5 L353.2,109.0 L353.5,109.5 L353.8,110.0 L354.1,110.5 L354.3,111.0 L354.4,111.5 L354.5,112.0 L354.5,112.5 L354.4,113.0 L354.3,113.5 L354.2,114.0 L354.0,114.5 L353.8,115.0 L353.5,115.5 L353.3,116.0 L353.0,116.5 L352.7,117.0 L352.5,117.5 L351.8,117.5 L351.6,117.0 L351.3,116.5 L351.0,116.0 L350.8,115.5 L350.5,115.0 L350.3,114.5 L350.1,114.0 L350.0,113.5 L349.9,113.0 L349.8,112.5 L349.8,112.0 L349.9,111.5 L350.0,111.0 L350.2,110.5 L350.5,110.0 L350.8,109.5 L351.1,109.0 L351.3,108.5 L351.2,108.0 L351.1,107.5 L351.1,107.0 L351.1,106.5 L351.1,106.0 L351.2,105.5 L351.3,105.0 L351.4,104.5 L351.6,104.0 L351.7,103.5 L351.8,103.0Z" fill="#eb9a1e" stroke="#5a3000" stroke-width="0.62" stroke-linejoin="round"/>
<line x1="350.44" y1="110.07" x2="353.86" y2="110.07" stroke="#5a3000" stroke-width="0.55"/>
<line x1="349.8" y1="112.1" x2="354.5" y2="112.1" stroke="#5a3000" stroke-width="0.85"/>
<line x1="350.44" y1="114.8" x2="353.86" y2="114.8" stroke="#5a3000" stroke-width="0.55"/>
<line x1="371.5" y1="79.8" x2="371.5" y2="124.9" stroke="#585858" stroke-width="0.9"/>
<path d="M371.17,96.6 L372.07,98.2 L371.17,99.8 L370.27,98.2Z" fill="#33a7dd" stroke="#0b3550" stroke-width="0.5"/>
<path d="M371.5,104.8 L371.8,105.3 L372.1,105.8 L372.3,106.3 L372.3,106.8 L372.3,107.3 L372.1,107.8 L371.8,108.3 L371.5,108.8 L371.5,109.3 L371.9,109.8 L372.3,110.3 L372.8,110.8 L373.2,111.3 L373.5,111.8 L373.7,112.3 L373.8,112.8 L373.8,113.3 L373.7,113.8 L373.5,114.3 L373.2,114.8 L372.8,115.3 L372.4,115.8 L372.0,116.3 L371.6,116.8 L370.7,116.8 L370.3,116.3 L369.9,115.8 L369.5,115.3 L369.1,114.8 L368.9,114.3 L368.7,113.8 L368.5,113.3 L368.5,112.8 L368.6,112.3 L368.9,111.8 L369.2,111.3 L369.6,110.8 L370.0,110.3 L370.4,109.8 L370.8,109.3 L370.9,108.8 L370.5,108.3 L370.3,107.8 L370.1,107.3 L370.0,106.8 L370.1,106.3 L370.3,105.8 L370.5,105.3 L370.9,104.8Z" fill="#33a7dd" stroke="#0b3550" stroke-width="0.62" stroke-linejoin="round"/>
<line x1="369.24" y1="111.2" x2="373.1" y2="111.2" stroke="#0b3550" stroke-width="0.55"/>
<line x1="368.52" y1="113" x2="373.82" y2="113" stroke="#0b3550" stroke-width="0.85"/>
<line x1="369.24" y1="114.94" x2="373.1" y2="114.94" stroke="#0b3550" stroke-width="0.55"/>
<line x1="382.5" y1="73.8" x2="382.5" y2="119.5" stroke="#585858" stroke-width="0.9"/>
<path d="M382.02,74.2 L382.92,76.8 L382.02,79.4 L381.12,76.8Z" fill="#33a7dd" stroke="#0b3550" stroke-width="0.5"/>
<path d="M382.02,84.1 L382.92,86.7 L382.02,89.3 L381.12,86.7Z" fill="#33a7dd" stroke="#0b3550" stroke-width="0.5"/>
<path d="M382.3,105.8 L382.6,106.3 L382.9,106.8 L383.1,107.3 L383.4,107.8 L383.6,108.3 L383.9,108.8 L384.1,109.3 L384.2,109.8 L384.3,110.3 L384.4,110.8 L384.4,111.3 L384.3,111.8 L384.3,112.3 L384.2,112.8 L384.1,113.3 L384.0,113.8 L383.9,114.3 L383.7,114.8 L383.5,115.3 L383.4,115.8 L383.2,116.3 L383.0,116.8 L382.8,117.3 L382.6,117.8 L382.4,118.3 L381.6,118.3 L381.5,117.8 L381.3,117.3 L381.1,116.8 L380.9,116.3 L380.7,115.8 L380.5,115.3 L380.3,114.8 L380.2,114.3 L380.0,113.8 L379.9,113.3 L379.8,112.8 L379.7,112.3 L379.7,111.8 L379.7,111.3 L379.7,110.8 L379.7,110.3 L379.8,109.8 L380.0,109.3 L380.2,108.8 L380.4,108.3 L380.6,107.8 L380.9,107.3 L381.2,106.8 L381.5,106.3 L381.7,105.8Z" fill="#33a7dd" stroke="#0b3550" stroke-width="0.62" stroke-linejoin="round"/>
<line x1="380.31" y1="108.49" x2="383.73" y2="108.49" stroke="#0b3550" stroke-width="0.55"/>
<line x1="379.67" y1="111.1" x2="384.37" y2="111.1" stroke="#0b3550" stroke-width="0.85"/>
<line x1="380.31" y1="114.74" x2="383.73" y2="114.74" stroke="#0b3550" stroke-width="0.55"/>
<line x1="392.5" y1="67.9" x2="392.5" y2="122.5" stroke="#585858" stroke-width="0.9"/>
<path d="M392.87,67.3 L393.77,69.9 L392.87,72.5 L391.97,69.9Z" fill="#33a7dd" stroke="#0b3550" stroke-width="0.5"/>
<path d="M392.87,81.2 L393.77,83.8 L392.87,86.4 L391.97,83.8Z" fill="#33a7dd" stroke="#0b3550" stroke-width="0.5"/>
<path d="M393.2,103.9 L393.5,104.4 L393.7,104.9 L394.0,105.4 L394.3,105.9 L394.6,106.4 L394.8,106.9 L395.0,107.4 L395.1,107.9 L395.3,108.4 L395.3,108.9 L395.3,109.4 L395.1,109.9 L394.8,110.4 L394.3,110.9 L393.8,111.4 L394.0,111.9 L394.5,112.4 L394.9,112.9 L395.0,113.4 L395.0,113.9 L395.0,114.4 L394.9,114.9 L394.8,115.4 L394.7,115.9 L394.5,116.4 L394.3,116.9 L394.2,117.4 L394.0,117.9 L393.8,118.4 L393.6,118.9 L393.4,119.4 L393.2,119.9 L392.5,119.9 L392.4,119.4 L392.2,118.9 L392.0,118.4 L391.8,117.9 L391.6,117.4 L391.4,116.9 L391.2,116.4 L391.1,115.9 L391.0,115.4 L390.9,114.9 L390.8,114.4 L390.7,113.9 L390.7,113.4 L390.9,112.9 L391.2,112.4 L391.8,111.9 L391.9,111.4 L391.4,110.9 L391.0,110.4 L390.6,109.9 L390.4,109.4 L390.4,108.9 L390.5,108.4 L390.6,107.9 L390.7,107.4 L390.9,106.9 L391.2,106.4 L391.4,105.9 L391.7,105.4 L392.0,104.9 L392.3,104.4 L392.5,103.9Z" fill="#33a7dd" stroke="#0b3550" stroke-width="0.62" stroke-linejoin="round"/>
<line x1="391.09" y1="106.59" x2="394.65" y2="106.59" stroke="#0b3550" stroke-width="0.55"/>
<line x1="390.42" y1="109.2" x2="395.32" y2="109.2" stroke="#0b3550" stroke-width="0.85"/>
<line x1="391.09" y1="110.55" x2="394.65" y2="110.55" stroke="#0b3550" stroke-width="0.55"/>
<line x1="403.5" y1="91.7" x2="403.5" y2="119.6" stroke="#585858" stroke-width="0.9"/>
<path d="M403.72,92.8 L404.62,94.4 L403.72,96 L402.82,94.4Z" fill="#33a7dd" stroke="#0b3550" stroke-width="0.5"/>
<path d="M404.1,106.8 L404.4,107.3 L404.7,107.8 L405.0,108.3 L405.3,108.8 L405.6,109.3 L405.8,109.8 L406.0,110.3 L406.1,110.8 L406.2,111.3 L406.1,111.8 L406.0,112.3 L405.7,112.8 L405.3,113.3 L405.2,113.8 L405.5,114.3 L405.8,114.8 L405.7,115.3 L405.6,115.8 L405.3,116.3 L404.9,116.8 L404.5,117.3 L404.1,117.8 L403.4,117.8 L403.0,117.3 L402.5,116.8 L402.2,116.3 L401.9,115.8 L401.7,115.3 L401.7,114.8 L401.9,114.3 L402.2,113.8 L402.1,113.3 L401.8,112.8 L401.5,112.3 L401.3,111.8 L401.3,111.3 L401.3,110.8 L401.5,110.3 L401.6,109.8 L401.9,109.3 L402.1,108.8 L402.4,108.3 L402.8,107.8 L403.1,107.3 L403.4,106.8Z" fill="#33a7dd" stroke="#0b3550" stroke-width="0.62" stroke-linejoin="round"/>
<line x1="401.94" y1="109.16" x2="405.5" y2="109.16" stroke="#0b3550" stroke-width="0.55"/>
<line x1="401.27" y1="111.5" x2="406.17" y2="111.5" stroke="#0b3550" stroke-width="0.85"/>
<line x1="401.93" y1="113.03" x2="405.51" y2="113.03" stroke="#0b3550" stroke-width="0.55"/>
<line x1="422.5" y1="102.9" x2="422.5" y2="121.9" stroke="#585858" stroke-width="0.9"/>
<path d="M423.1,105.0 L423.4,105.5 L423.7,106.0 L423.9,106.5 L424.1,107.0 L424.1,107.5 L424.1,108.0 L423.9,108.5 L423.7,109.0 L423.5,109.5 L423.2,110.0 L422.3,110.0 L422.0,109.5 L421.8,109.0 L421.5,108.5 L421.4,108.0 L421.3,107.5 L421.4,107.0 L421.6,106.5 L421.8,106.0 L422.1,105.5 L422.4,105.0Z" fill="#d8106c" stroke="#4a0420" stroke-width="0.62" stroke-linejoin="round"/>
<path d="M423.0,111.0 L423.4,111.5 L423.8,112.0 L424.2,112.5 L424.6,113.0 L424.8,113.5 L425.0,114.0 L425.1,114.5 L425.1,115.0 L425.0,115.5 L424.8,116.0 L424.6,116.5 L424.3,117.0 L424.0,117.5 L423.7,118.0 L423.4,118.5 L423.1,119.0 L422.4,119.0 L422.1,118.5 L421.8,118.0 L421.4,117.5 L421.1,117.0 L420.9,116.5 L420.7,116.0 L420.5,115.5 L420.4,115.0 L420.4,114.5 L420.5,114.0 L420.7,113.5 L420.9,113.0 L421.3,112.5 L421.7,112.0 L422.1,111.5 L422.4,111.0Z" fill="#d8106c" stroke="#4a0420" stroke-width="0.62" stroke-linejoin="round"/>
<line x1="421.03" y1="112.84" x2="424.45" y2="112.84" stroke="#4a0420" stroke-width="0.55"/>
<line x1="420.39" y1="114.6" x2="425.09" y2="114.6" stroke="#4a0420" stroke-width="0.85"/>
<line x1="421.03" y1="116.8" x2="424.45" y2="116.8" stroke="#4a0420" stroke-width="0.55"/>
<line x1="433.5" y1="104.7" x2="433.5" y2="123.2" stroke="#585858" stroke-width="0.9"/>
<path d="M434.0,108.0 L434.2,108.5 L434.4,109.0 L434.6,109.5 L434.8,110.0 L435.0,110.5 L435.2,111.0 L435.4,111.5 L435.5,112.0 L435.6,112.5 L435.7,113.0 L435.8,113.5 L435.9,114.0 L435.9,114.5 L435.9,115.0 L435.9,115.5 L435.8,116.0 L435.7,116.5 L435.5,117.0 L435.3,117.5 L435.1,118.0 L434.9,118.5 L434.6,119.0 L434.3,119.5 L434.1,120.0 L433.1,120.0 L432.8,119.5 L432.6,119.0 L432.3,118.5 L432.1,118.0 L431.8,117.5 L431.6,117.0 L431.5,116.5 L431.4,116.0 L431.3,115.5 L431.2,115.0 L431.2,114.5 L431.3,114.0 L431.3,113.5 L431.4,113.0 L431.5,112.5 L431.7,112.0 L431.8,111.5 L432.0,111.0 L432.2,110.5 L432.4,110.0 L432.6,109.5 L432.8,109.0 L433.0,108.5 L433.2,108.0Z" fill="#d8106c" stroke="#4a0420" stroke-width="0.62" stroke-linejoin="round"/>
<line x1="431.88" y1="111.34" x2="435.3" y2="111.34" stroke="#4a0420" stroke-width="0.55"/>
<line x1="431.24" y1="114.9" x2="435.94" y2="114.9" stroke="#4a0420" stroke-width="0.85"/>
<line x1="431.88" y1="117.6" x2="435.3" y2="117.6" stroke="#4a0420" stroke-width="0.55"/>
<line x1="444.5" y1="100.6" x2="444.5" y2="125.6" stroke="#585858" stroke-width="0.9"/>
<path d="M444.9,107.1 L445.1,107.6 L445.4,108.1 L445.6,108.6 L445.8,109.1 L446.0,109.6 L446.2,110.1 L446.4,110.6 L446.5,111.1 L446.6,111.6 L446.7,112.1 L446.8,112.6 L446.8,113.1 L446.8,113.6 L446.8,114.1 L446.7,114.6 L446.6,115.1 L446.6,115.6 L446.5,116.1 L446.4,116.6 L446.2,117.1 L446.1,117.6 L446.0,118.1 L445.8,118.6 L445.7,119.1 L445.5,119.6 L445.3,120.1 L445.2,120.6 L445.0,121.1 L444.9,121.6 L444.0,121.6 L443.9,121.1 L443.7,120.6 L443.5,120.1 L443.4,119.6 L443.2,119.1 L443.1,118.6 L442.9,118.1 L442.8,117.6 L442.6,117.1 L442.5,116.6 L442.4,116.1 L442.3,115.6 L442.2,115.1 L442.2,114.6 L442.1,114.1 L442.1,113.6 L442.1,113.1 L442.1,112.6 L442.2,112.1 L442.2,111.6 L442.4,111.1 L442.5,110.6 L442.7,110.1 L442.9,109.6 L443.1,109.1 L443.3,108.6 L443.5,108.1 L443.7,107.6 L444.0,107.1Z" fill="#d8106c" stroke="#4a0420" stroke-width="0.62" stroke-linejoin="round"/>
<line x1="442.73" y1="109.95" x2="446.15" y2="109.95" stroke="#4a0420" stroke-width="0.55"/>
<line x1="442.09" y1="113.1" x2="446.79" y2="113.1" stroke="#4a0420" stroke-width="0.85"/>
<line x1="442.73" y1="117.46" x2="446.15" y2="117.46" stroke="#4a0420" stroke-width="0.55"/>
<line x1="455.5" y1="98.7" x2="455.5" y2="127.4" stroke="#585858" stroke-width="0.9"/>
<path d="M455.7,103.0 L455.9,103.5 L456.0,104.0 L456.2,104.5 L456.3,105.0 L456.4,105.5 L456.4,106.0 L456.4,106.5 L456.3,107.0 L456.2,107.5 L456.0,108.0 L455.9,108.5 L456.0,109.0 L456.2,109.5 L456.5,110.0 L456.7,110.5 L457.0,111.0 L457.2,111.5 L457.4,112.0 L457.5,112.5 L457.7,113.0 L457.8,113.5 L457.8,114.0 L457.8,114.5 L457.8,115.0 L457.8,115.5 L457.8,116.0 L457.7,116.5 L457.6,117.0 L457.5,117.5 L457.4,118.0 L457.2,118.5 L457.0,119.0 L456.9,119.5 L456.7,120.0 L456.5,120.5 L456.3,121.0 L456.1,121.5 L456.0,122.0 L455.8,122.5 L455.6,123.0 L455.0,123.0 L454.8,122.5 L454.6,122.0 L454.4,121.5 L454.3,121.0 L454.1,120.5 L453.9,120.0 L453.7,119.5 L453.5,119.0 L453.4,118.5 L453.2,118.0 L453.1,117.5 L453.0,117.0 L452.9,116.5 L452.8,116.0 L452.8,115.5 L452.7,115.0 L452.7,114.5 L452.8,114.0 L452.8,113.5 L452.9,113.0 L453.1,112.5 L453.2,112.0 L453.4,111.5 L453.6,111.0 L453.9,110.5 L454.1,110.0 L454.3,109.5 L454.6,109.0 L454.6,108.5 L454.5,108.0 L454.4,107.5 L454.3,107.0 L454.2,106.5 L454.2,106.0 L454.2,105.5 L454.3,105.0 L454.4,104.5 L454.6,104.0 L454.7,103.5 L454.9,103.0Z" fill="#d8106c" stroke="#4a0420" stroke-width="0.62" stroke-linejoin="round"/>
<line x1="453.43" y1="111.45" x2="457.15" y2="111.45" stroke="#4a0420" stroke-width="0.55"/>
<line x1="452.74" y1="114.6" x2="457.84" y2="114.6" stroke="#4a0420" stroke-width="0.85"/>
<line x1="453.43" y1="118.69" x2="457.15" y2="118.69" stroke="#4a0420" stroke-width="0.55"/>
<line x1="474.5" y1="96.5" x2="474.5" y2="126.1" stroke="#585858" stroke-width="0.9"/>
<path d="M474.6,106.6 L474.9,107.1 L475.2,107.6 L475.5,108.1 L475.8,108.6 L476.0,109.1 L476.2,109.6 L476.4,110.1 L476.5,110.6 L476.6,111.1 L476.7,111.6 L476.6,112.1 L476.5,112.6 L476.2,113.1 L475.9,113.6 L475.5,114.1 L475.1,114.6 L474.9,115.1 L475.2,115.6 L475.7,116.1 L476.0,116.6 L476.3,117.1 L476.4,117.6 L476.3,118.1 L476.2,118.6 L476.0,119.1 L475.8,119.6 L475.5,120.1 L475.2,120.6 L474.9,121.1 L474.7,121.6 L474.0,121.6 L473.7,121.1 L473.4,120.6 L473.1,120.1 L472.8,119.6 L472.6,119.1 L472.4,118.6 L472.3,118.1 L472.3,117.6 L472.3,117.1 L472.6,116.6 L472.9,116.1 L473.4,115.6 L473.7,115.1 L473.5,114.6 L473.1,114.1 L472.7,113.6 L472.4,113.1 L472.2,112.6 L472.0,112.1 L472.0,111.6 L472.0,111.1 L472.1,110.6 L472.2,110.1 L472.4,109.6 L472.6,109.1 L472.9,108.6 L473.1,108.1 L473.4,107.6 L473.7,107.1 L474.0,106.6Z" fill="#c0ca8e" stroke="#3e4318" stroke-width="0.62" stroke-linejoin="round"/>
<line x1="472.6" y1="109.12" x2="476.02" y2="109.12" stroke="#3e4318" stroke-width="0.55"/>
<line x1="471.96" y1="111.6" x2="476.66" y2="111.6" stroke="#3e4318" stroke-width="0.85"/>
<line x1="472.6" y1="113.4" x2="476.02" y2="113.4" stroke="#3e4318" stroke-width="0.55"/>
<line x1="485.5" y1="100.5" x2="485.5" y2="125.6" stroke="#585858" stroke-width="0.9"/>
<path d="M485.5,110.1 L485.8,110.6 L486.1,111.1 L486.5,111.6 L486.8,112.1 L487.0,112.6 L487.3,113.1 L487.4,113.6 L487.5,114.1 L487.6,114.6 L487.5,115.1 L487.5,115.6 L487.4,116.1 L487.3,116.6 L487.2,117.1 L487.0,117.6 L486.9,118.1 L486.7,118.6 L486.5,119.1 L486.3,119.6 L486.0,120.1 L485.8,120.6 L485.6,121.1 L484.7,121.1 L484.5,120.6 L484.3,120.1 L484.1,119.6 L483.9,119.1 L483.6,118.6 L483.5,118.1 L483.3,117.6 L483.1,117.1 L483.0,116.6 L482.9,116.1 L482.8,115.6 L482.8,115.1 L482.8,114.6 L482.8,114.1 L482.9,113.6 L483.1,113.1 L483.3,112.6 L483.6,112.1 L483.9,111.6 L484.2,111.1 L484.5,110.6 L484.8,110.1Z" fill="#c0ca8e" stroke="#3e4318" stroke-width="0.62" stroke-linejoin="round"/>
<line x1="483.41" y1="112.35" x2="486.91" y2="112.35" stroke="#3e4318" stroke-width="0.55"/>
<line x1="482.76" y1="114.6" x2="487.56" y2="114.6" stroke="#3e4318" stroke-width="0.85"/>
<line x1="483.41" y1="117.97" x2="486.91" y2="117.97" stroke="#3e4318" stroke-width="0.55"/>
<line x1="496.5" y1="101" x2="496.5" y2="125.1" stroke="#585858" stroke-width="0.9"/>
<path d="M496.3,107.6 L496.6,108.1 L496.8,108.6 L497.1,109.1 L497.4,109.6 L497.6,110.1 L497.9,110.6 L498.0,111.1 L498.2,111.6 L498.2,112.1 L498.3,112.6 L498.2,113.1 L497.9,113.6 L497.7,114.1 L497.7,114.6 L497.9,115.1 L498.2,115.6 L498.3,116.1 L498.2,116.6 L498.1,117.1 L498.0,117.6 L497.8,118.1 L497.5,118.6 L497.2,119.1 L496.9,119.6 L496.6,120.1 L496.4,120.6 L495.7,120.6 L495.4,120.1 L495.1,119.6 L494.8,119.1 L494.5,118.6 L494.2,118.1 L494.0,117.6 L493.9,117.1 L493.8,116.6 L493.8,116.1 L493.8,115.6 L494.1,115.1 L494.4,114.6 L494.4,114.1 L494.1,113.6 L493.8,113.1 L493.8,112.6 L493.8,112.1 L493.9,111.6 L494.0,111.1 L494.2,110.6 L494.4,110.1 L494.6,109.6 L494.9,109.1 L495.2,108.6 L495.4,108.1 L495.7,107.6Z" fill="#c0ca8e" stroke="#3e4318" stroke-width="0.62" stroke-linejoin="round"/>
<line x1="494.37" y1="110.12" x2="497.65" y2="110.12" stroke="#3e4318" stroke-width="0.55"/>
<line x1="493.76" y1="112.6" x2="498.26" y2="112.6" stroke="#3e4318" stroke-width="0.85"/>
<line x1="494.29" y1="113.95" x2="497.73" y2="113.95" stroke="#3e4318" stroke-width="0.55"/>
<line x1="506.5" y1="94" x2="506.5" y2="128.6" stroke="#585858" stroke-width="0.9"/>
<path d="M507.4,107.0 L507.6,107.5 L507.8,108.0 L507.9,108.5 L508.0,109.0 L507.9,109.5 L507.8,110.0 L507.6,110.5 L507.4,111.0 L506.4,111.0 L506.1,110.5 L505.9,110.0 L505.8,109.5 L505.8,109.0 L505.8,108.5 L505.9,108.0 L506.1,107.5 L506.4,107.0Z" fill="#c0ca8e" stroke="#3e4318" stroke-width="0.62" stroke-linejoin="round"/>
<path d="M507.2,112.0 L507.5,112.5 L507.8,113.0 L508.2,113.5 L508.5,114.0 L508.8,114.5 L509.0,115.0 L509.2,115.5 L509.4,116.0 L509.4,116.5 L509.4,117.0 L509.3,117.5 L509.2,118.0 L509.1,118.5 L508.9,119.0 L508.7,119.5 L508.5,120.0 L508.2,120.5 L508.0,121.0 L507.7,121.5 L507.5,122.0 L507.2,122.5 L506.5,122.5 L506.3,122.0 L506.0,121.5 L505.7,121.0 L505.5,120.5 L505.2,120.0 L505.0,119.5 L504.8,119.0 L504.6,118.5 L504.5,118.0 L504.4,117.5 L504.3,117.0 L504.3,116.5 L504.4,116.0 L504.5,115.5 L504.7,115.0 L504.9,114.5 L505.2,114.0 L505.5,113.5 L505.9,113.0 L506.2,112.5 L506.5,112.0Z" fill="#c0ca8e" stroke="#3e4318" stroke-width="0.62" stroke-linejoin="round"/>
<line x1="505" y1="114.35" x2="508.72" y2="114.35" stroke="#3e4318" stroke-width="0.55"/>
<line x1="504.31" y1="116.6" x2="509.41" y2="116.6" stroke="#3e4318" stroke-width="0.85"/>
<line x1="505" y1="119.52" x2="508.72" y2="119.52" stroke="#3e4318" stroke-width="0.55"/>
<path d="M393.5,41.9 V34.5 H496.5 V93.2" fill="none" stroke="#7a7a7a" stroke-width="0.95"/>
<circle cx="444.7" cy="30.4" r="1.12" fill="#222"/>
<path d="M382.5,66.5 V44.5 H485.5 V93.9" fill="none" stroke="#7a7a7a" stroke-width="0.95"/>
<circle cx="439.4" cy="40.4" r="1.12" fill="#222"/>
<path d="M393.5,68.8 V55.5 H444.5 V93.2" fill="none" stroke="#7a7a7a" stroke-width="0.95"/>
<circle cx="419" cy="51.4" r="1.12" fill="#222"/>
<text x="340.4" y="189.2" font-size="7.7" text-anchor="start" font-weight="normal" fill="#262626" textLength="27.3" lengthAdjust="spacingAndGlyphs">U-RBCs</text>
<rect x="372.7" y="183.8" width="8.6" height="5.4" fill="#eb9a1e" stroke="#5a3000" stroke-width="0.9"/>
<text x="384.7" y="189.2" font-size="7.7" text-anchor="start" font-weight="normal" fill="#262626" textLength="9.8" lengthAdjust="spacingAndGlyphs">TM</text>
<rect x="400.2" y="183.8" width="8.6" height="5.4" fill="#33a7dd" stroke="#0b3550" stroke-width="0.9"/>
<text x="412.2" y="189.2" font-size="7.7" text-anchor="start" font-weight="normal" fill="#262626" textLength="8.6" lengthAdjust="spacingAndGlyphs">TF</text>
<rect x="427.7" y="183.8" width="8.6" height="5.4" fill="#d8106c" stroke="#4a0420" stroke-width="0.9"/>
<text x="439.7" y="189.2" font-size="7.7" text-anchor="start" font-weight="normal" fill="#262626" textLength="11" lengthAdjust="spacingAndGlyphs">SM</text>
<rect x="455.2" y="183.8" width="8.6" height="5.4" fill="#c0ca8e" stroke="#3e4318" stroke-width="0.9"/>
<text x="467.2" y="189.2" font-size="7.7" text-anchor="start" font-weight="normal" fill="#262626" textLength="8.9" lengthAdjust="spacingAndGlyphs">SF</text>
<line x1="89.6" y1="211.4" x2="89.6" y2="337.5" stroke="#ebebeb" stroke-width="1.1"/>
<line x1="141.17" y1="211.4" x2="141.17" y2="337.5" stroke="#ebebeb" stroke-width="1.1"/>
<line x1="192.74" y1="211.4" x2="192.74" y2="337.5" stroke="#ebebeb" stroke-width="1.1"/>
<line x1="41.5" y1="213.1" x2="41.5" y2="321.1" stroke="#2b2b2b" stroke-width="1.2"/>
<line x1="38.9" y1="320.5" x2="41.5" y2="320.5" stroke="#2b2b2b" stroke-width="1.1"/>
<text x="35.7" y="323.25" font-size="7.8" text-anchor="end" font-weight="normal" fill="#262626">0</text>
<line x1="38.9" y1="299.56" x2="41.5" y2="299.56" stroke="#2b2b2b" stroke-width="1.1"/>
<text x="35.7" y="302.31" font-size="7.8" text-anchor="end" font-weight="normal" fill="#262626">1</text>
<line x1="38.9" y1="278.62" x2="41.5" y2="278.62" stroke="#2b2b2b" stroke-width="1.1"/>
<text x="35.7" y="281.37" font-size="7.8" text-anchor="end" font-weight="normal" fill="#262626">2</text>
<line x1="38.9" y1="257.68" x2="41.5" y2="257.68" stroke="#2b2b2b" stroke-width="1.1"/>
<text x="35.7" y="260.43" font-size="7.8" text-anchor="end" font-weight="normal" fill="#262626">3</text>
<line x1="38.9" y1="236.74" x2="41.5" y2="236.74" stroke="#2b2b2b" stroke-width="1.1"/>
<text x="35.7" y="239.49" font-size="7.8" text-anchor="end" font-weight="normal" fill="#262626">4</text>
<line x1="38.9" y1="215.8" x2="41.5" y2="215.8" stroke="#2b2b2b" stroke-width="1.1"/>
<text x="35.7" y="218.55" font-size="7.8" text-anchor="end" font-weight="normal" fill="#262626">5</text>
<line x1="40.9" y1="320.5" x2="240.9" y2="320.5" stroke="#2b2b2b" stroke-width="1.2"/>
<line x1="47.3" y1="320.5" x2="47.3" y2="323.1" stroke="#2b2b2b" stroke-width="1"/>
<text x="47.5" y="333.5" font-size="8" text-anchor="middle" font-weight="normal" fill="#262626">5</text>
<line x1="58.15" y1="320.5" x2="58.15" y2="323.1" stroke="#2b2b2b" stroke-width="1"/>
<text x="58.35" y="333.5" font-size="8" text-anchor="middle" font-weight="normal" fill="#262626">14</text>
<line x1="69" y1="320.5" x2="69" y2="323.1" stroke="#2b2b2b" stroke-width="1"/>
<text x="69.2" y="333.5" font-size="8" text-anchor="middle" font-weight="normal" fill="#262626">28</text>
<line x1="79.85" y1="320.5" x2="79.85" y2="323.1" stroke="#2b2b2b" stroke-width="1"/>
<text x="80.05" y="333.5" font-size="8" text-anchor="middle" font-weight="normal" fill="#262626">42</text>
<text x="63.6" y="345" font-size="8.4" text-anchor="middle" font-weight="normal" fill="#262626" textLength="9.8" lengthAdjust="spacingAndGlyphs">TM</text>
<line x1="98.87" y1="320.5" x2="98.87" y2="323.1" stroke="#2b2b2b" stroke-width="1"/>
<text x="99.07" y="333.5" font-size="8" text-anchor="middle" font-weight="normal" fill="#262626">5</text>
<line x1="109.72" y1="320.5" x2="109.72" y2="323.1" stroke="#2b2b2b" stroke-width="1"/>
<text x="109.92" y="333.5" font-size="8" text-anchor="middle" font-weight="normal" fill="#262626">14</text>
<line x1="120.57" y1="320.5" x2="120.57" y2="323.1" stroke="#2b2b2b" stroke-width="1"/>
<text x="120.77" y="333.5" font-size="8" text-anchor="middle" font-weight="normal" fill="#262626">28</text>
<line x1="131.42" y1="320.5" x2="131.42" y2="323.1" stroke="#2b2b2b" stroke-width="1"/>
<text x="131.62" y="333.5" font-size="8" text-anchor="middle" font-weight="normal" fill="#262626">42</text>
<text x="115.17" y="345" font-size="8.4" text-anchor="middle" font-weight="normal" fill="#262626" textLength="8.6" lengthAdjust="spacingAndGlyphs">TF</text>
<line x1="150.44" y1="320.5" x2="150.44" y2="323.1" stroke="#2b2b2b" stroke-width="1"/>
<text x="150.64" y="333.5" font-size="8" text-anchor="middle" font-weight="normal" fill="#262626">5</text>
<line x1="161.29" y1="320.5" x2="161.29" y2="323.1" stroke="#2b2b2b" stroke-width="1"/>
<text x="161.49" y="333.5" font-size="8" text-anchor="middle" font-weight="normal" fill="#262626">14</text>
<line x1="172.14" y1="320.5" x2="172.14" y2="323.1" stroke="#2b2b2b" stroke-width="1"/>
<text x="172.34" y="333.5" font-size="8" text-anchor="middle" font-weight="normal" fill="#262626">28</text>
<line x1="182.99" y1="320.5" x2="182.99" y2="323.1" stroke="#2b2b2b" stroke-width="1"/>
<text x="183.19" y="333.5" font-size="8" text-anchor="middle" font-weight="normal" fill="#262626">42</text>
<text x="166.74" y="345" font-size="8.4" text-anchor="middle" font-weight="normal" fill="#262626" textLength="11" lengthAdjust="spacingAndGlyphs">SM</text>
<line x1="202.01" y1="320.5" x2="202.01" y2="323.1" stroke="#2b2b2b" stroke-width="1"/>
<text x="202.21" y="333.5" font-size="8" text-anchor="middle" font-weight="normal" fill="#262626">5</text>
<line x1="212.86" y1="320.5" x2="212.86" y2="323.1" stroke="#2b2b2b" stroke-width="1"/>
<text x="213.06" y="333.5" font-size="8" text-anchor="middle" font-weight="normal" fill="#262626">14</text>
<line x1="223.71" y1="320.5" x2="223.71" y2="323.1" stroke="#2b2b2b" stroke-width="1"/>
<text x="223.91" y="333.5" font-size="8" text-anchor="middle" font-weight="normal" fill="#262626">28</text>
<line x1="234.56" y1="320.5" x2="234.56" y2="323.1" stroke="#2b2b2b" stroke-width="1"/>
<text x="234.76" y="333.5" font-size="8" text-anchor="middle" font-weight="normal" fill="#262626">42</text>
<text x="218.31" y="345" font-size="8.4" text-anchor="middle" font-weight="normal" fill="#262626" textLength="8.9" lengthAdjust="spacingAndGlyphs">SF</text>
<text x="141.2" y="358.2" font-size="8.9" text-anchor="middle" font-weight="bold" fill="#262626" textLength="41" lengthAdjust="spacingAndGlyphs">Day of storage</text>
<text transform="translate(25.2,266.5) rotate(-90)" font-size="8.8" text-anchor="middle" fill="#262626" style="stroke-width:0.4px" textLength="36.8" lengthAdjust="spacingAndGlyphs">Rigidity (K<tspan font-size="5" dy="1.5">E</tspan><tspan dy="-1.5">)</tspan></text>
<text x="10" y="208" font-size="10.6" text-anchor="start" font-weight="bold" fill="#111" style="stroke-width:0.45px">C</text>
<line x1="47.5" y1="288.4" x2="47.5" y2="305.3" stroke="#585858" stroke-width="0.9"/>
<path d="M47.6,293.5 L47.9,294.0 L48.1,294.5 L48.4,295.0 L48.7,295.5 L48.9,296.0 L49.1,296.5 L49.2,297.0 L49.2,297.5 L49.2,298.0 L49.2,298.5 L49.0,299.0 L48.8,299.5 L48.6,300.0 L48.3,300.5 L48.1,301.0 L47.8,301.5 L46.8,301.5 L46.5,301.0 L46.3,300.5 L46.0,300.0 L45.8,299.5 L45.6,299.0 L45.4,298.5 L45.4,298.0 L45.4,297.5 L45.4,297.0 L45.5,296.5 L45.7,296.0 L45.9,295.5 L46.2,295.0 L46.5,294.5 L46.7,294.0 L47.0,293.5Z" fill="#eb9a1e" stroke="#5a3000" stroke-width="0.62" stroke-linejoin="round"/>
<line x1="45.88" y1="295.58" x2="48.72" y2="295.58" stroke="#5a3000" stroke-width="0.55"/>
<line x1="45.35" y1="297.7" x2="49.25" y2="297.7" stroke="#5a3000" stroke-width="0.85"/>
<line x1="45.88" y1="299.77" x2="48.72" y2="299.77" stroke="#5a3000" stroke-width="0.55"/>
<line x1="58.5" y1="283.1" x2="58.5" y2="302.9" stroke="#585858" stroke-width="0.9"/>
<path d="M58.15,283.4 L59.05,286 L58.15,288.6 L57.25,286Z" fill="#eb9a1e" stroke="#5a3000" stroke-width="0.5"/>
<path d="M58.6,290.6 L59.1,291.1 L59.4,291.6 L59.7,292.1 L59.7,292.6 L59.5,293.1 L59.1,293.6 L59.2,294.1 L59.5,294.6 L59.8,295.1 L60.0,295.6 L60.1,296.1 L60.1,296.6 L60.1,297.1 L59.9,297.6 L59.8,298.1 L59.6,298.6 L59.3,299.1 L59.1,299.6 L58.8,300.1 L58.5,300.6 L57.8,300.6 L57.5,300.1 L57.2,299.6 L57.0,299.1 L56.7,298.6 L56.5,298.1 L56.4,297.6 L56.2,297.1 L56.2,296.6 L56.2,296.1 L56.3,295.6 L56.5,295.1 L56.8,294.6 L57.1,294.1 L57.2,293.6 L56.8,293.1 L56.6,292.6 L56.6,292.1 L56.9,291.6 L57.2,291.1 L57.7,290.6Z" fill="#eb9a1e" stroke="#5a3000" stroke-width="0.62" stroke-linejoin="round"/>
<line x1="56.73" y1="294.7" x2="59.57" y2="294.7" stroke="#5a3000" stroke-width="0.55"/>
<line x1="56.2" y1="296.5" x2="60.1" y2="296.5" stroke="#5a3000" stroke-width="0.85"/>
<line x1="56.73" y1="298.62" x2="59.57" y2="298.62" stroke="#5a3000" stroke-width="0.55"/>
<line x1="69.5" y1="272.7" x2="69.5" y2="306.4" stroke="#585858" stroke-width="0.9"/>
<path d="M69.4,286.5 L69.6,287.0 L69.7,287.5 L69.9,288.0 L70.1,288.5 L70.3,289.0 L70.4,289.5 L70.6,290.0 L70.8,290.5 L70.9,291.0 L71.1,291.5 L71.2,292.0 L71.3,292.5 L71.5,293.0 L71.5,293.5 L71.6,294.0 L71.7,294.5 L71.7,295.0 L71.7,295.5 L71.7,296.0 L71.7,296.5 L71.7,297.0 L71.5,297.5 L71.4,298.0 L71.2,298.5 L71.0,299.0 L70.8,299.5 L70.5,300.0 L70.3,300.5 L70.0,301.0 L69.8,301.5 L69.5,302.0 L68.5,302.0 L68.2,301.5 L68.0,301.0 L67.7,300.5 L67.5,300.0 L67.2,299.5 L67.0,299.0 L66.8,298.5 L66.6,298.0 L66.5,297.5 L66.3,297.0 L66.3,296.5 L66.3,296.0 L66.3,295.5 L66.3,295.0 L66.3,294.5 L66.4,294.0 L66.5,293.5 L66.5,293.0 L66.7,292.5 L66.8,292.0 L66.9,291.5 L67.1,291.0 L67.2,290.5 L67.4,290.0 L67.6,289.5 L67.7,289.0 L67.9,288.5 L68.1,288.0 L68.3,287.5 L68.4,287.0 L68.6,286.5Z" fill="#eb9a1e" stroke="#5a3000" stroke-width="0.62" stroke-linejoin="round"/>
<line x1="67" y1="291.22" x2="71" y2="291.22" stroke="#5a3000" stroke-width="0.55"/>
<line x1="66.25" y1="295.9" x2="71.75" y2="295.9" stroke="#5a3000" stroke-width="0.85"/>
<line x1="67" y1="299.05" x2="71" y2="299.05" stroke="#5a3000" stroke-width="0.55"/>
<line x1="79.5" y1="285.5" x2="79.5" y2="307.6" stroke="#585858" stroke-width="0.9"/>
<path d="M80.3,291.2 L80.6,291.7 L81.0,292.2 L81.4,292.7 L81.7,293.2 L81.9,293.7 L82.0,294.2 L82.0,294.7 L82.0,295.2 L81.9,295.7 L81.9,296.2 L81.8,296.7 L81.7,297.2 L81.6,297.7 L81.4,298.2 L81.3,298.7 L81.1,299.2 L81.0,299.7 L80.8,300.2 L80.6,300.7 L80.5,301.2 L80.3,301.7 L79.4,301.7 L79.2,301.2 L79.1,300.7 L78.9,300.2 L78.7,299.7 L78.6,299.2 L78.4,298.7 L78.3,298.2 L78.1,297.7 L78.0,297.2 L77.9,296.7 L77.8,296.2 L77.8,295.7 L77.7,295.2 L77.7,294.7 L77.7,294.2 L77.8,293.7 L78.0,293.2 L78.3,292.7 L78.7,292.2 L79.1,291.7 L79.4,291.2Z" fill="#eb9a1e" stroke="#5a3000" stroke-width="0.62" stroke-linejoin="round"/>
<line x1="78.28" y1="292.79" x2="81.42" y2="292.79" stroke="#5a3000" stroke-width="0.55"/>
<line x1="77.7" y1="294.5" x2="82" y2="294.5" stroke="#5a3000" stroke-width="0.85"/>
<line x1="78.28" y1="298.28" x2="81.42" y2="298.28" stroke="#5a3000" stroke-width="0.55"/>
<line x1="98.5" y1="271.2" x2="98.5" y2="304.3" stroke="#585858" stroke-width="0.9"/>
<path d="M98.87,271.9 L99.77,274.5 L98.87,277.1 L97.97,274.5Z" fill="#33a7dd" stroke="#0b3550" stroke-width="0.5"/>
<path d="M98.87,279.9 L99.77,282.5 L98.87,285.1 L97.97,282.5Z" fill="#33a7dd" stroke="#0b3550" stroke-width="0.5"/>
<path d="M99.2,289.6 L99.4,290.1 L99.7,290.6 L100.0,291.1 L100.2,291.6 L100.5,292.1 L100.7,292.6 L100.8,293.1 L101.0,293.6 L101.0,294.1 L101.0,294.6 L101.0,295.1 L100.9,295.6 L100.7,296.1 L100.5,296.6 L100.3,297.1 L100.0,297.6 L99.7,298.1 L99.4,298.6 L99.2,299.1 L98.5,299.1 L98.3,298.6 L98.0,298.1 L97.7,297.6 L97.5,297.1 L97.2,296.6 L97.0,296.1 L96.9,295.6 L96.8,295.1 L96.7,294.6 L96.7,294.1 L96.8,293.6 L96.9,293.1 L97.1,292.6 L97.3,292.1 L97.5,291.6 L97.8,291.1 L98.0,290.6 L98.3,290.1 L98.6,289.6Z" fill="#33a7dd" stroke="#0b3550" stroke-width="0.62" stroke-linejoin="round"/>
<line x1="97.3" y1="292.01" x2="100.44" y2="292.01" stroke="#0b3550" stroke-width="0.55"/>
<line x1="96.72" y1="294.4" x2="101.02" y2="294.4" stroke="#0b3550" stroke-width="0.85"/>
<line x1="97.3" y1="296.74" x2="100.44" y2="296.74" stroke="#0b3550" stroke-width="0.55"/>
<line x1="109.5" y1="266.6" x2="109.5" y2="304.3" stroke="#585858" stroke-width="0.9"/>
<path d="M109.72,267.3 L110.62,269.9 L109.72,272.5 L108.82,269.9Z" fill="#33a7dd" stroke="#0b3550" stroke-width="0.5"/>
<path d="M109.72,276.6 L110.62,279.2 L109.72,281.8 L108.82,279.2Z" fill="#33a7dd" stroke="#0b3550" stroke-width="0.5"/>
<path d="M109.72,283.8 L110.62,286.4 L109.72,289 L108.82,286.4Z" fill="#33a7dd" stroke="#0b3550" stroke-width="0.5"/>
<path d="M110.1,290.9 L110.3,291.4 L110.6,291.9 L110.9,292.4 L111.2,292.9 L111.5,293.4 L111.8,293.9 L112.0,294.4 L112.1,294.9 L112.2,295.4 L112.3,295.9 L112.3,296.4 L112.2,296.9 L112.1,297.4 L111.9,297.9 L111.7,298.4 L111.4,298.9 L111.1,299.4 L110.8,299.9 L110.5,300.4 L110.2,300.9 L109.2,300.9 L109.0,300.4 L108.6,299.9 L108.3,299.4 L108.0,298.9 L107.8,298.4 L107.5,297.9 L107.4,297.4 L107.2,296.9 L107.2,296.4 L107.2,295.9 L107.2,295.4 L107.3,294.9 L107.5,294.4 L107.7,293.9 L107.9,293.4 L108.2,292.9 L108.5,292.4 L108.8,291.9 L109.1,291.4 L109.4,290.9Z" fill="#33a7dd" stroke="#0b3550" stroke-width="0.62" stroke-linejoin="round"/>
<line x1="107.86" y1="293.54" x2="111.58" y2="293.54" stroke="#0b3550" stroke-width="0.55"/>
<line x1="107.17" y1="296.1" x2="112.27" y2="296.1" stroke="#0b3550" stroke-width="0.85"/>
<line x1="107.86" y1="298.58" x2="111.58" y2="298.58" stroke="#0b3550" stroke-width="0.55"/>
<line x1="120.5" y1="264" x2="120.5" y2="308.2" stroke="#585858" stroke-width="0.9"/>
<path d="M120.57,266.7 L121.47,269.3 L120.57,271.9 L119.67,269.3Z" fill="#33a7dd" stroke="#0b3550" stroke-width="0.5"/>
<path d="M120.57,276.6 L121.47,279.2 L120.57,281.8 L119.67,279.2Z" fill="#33a7dd" stroke="#0b3550" stroke-width="0.5"/>
<path d="M121.1,286.5 L121.6,287.0 L122.1,287.5 L122.5,288.0 L122.9,288.5 L123.2,289.0 L123.3,289.5 L123.3,290.0 L123.2,290.5 L123.1,291.0 L123.0,291.5 L123.1,292.0 L123.1,292.5 L123.2,293.0 L123.2,293.5 L123.2,294.0 L123.2,294.5 L123.1,295.0 L123.1,295.5 L123.0,296.0 L122.9,296.5 L122.8,297.0 L122.6,297.5 L122.5,298.0 L122.3,298.5 L122.2,299.0 L122.0,299.5 L121.8,300.0 L121.7,300.5 L121.5,301.0 L121.3,301.5 L121.1,302.0 L121.0,302.5 L120.2,302.5 L120.0,302.0 L119.8,301.5 L119.7,301.0 L119.5,300.5 L119.3,300.0 L119.1,299.5 L119.0,299.0 L118.8,298.5 L118.6,298.0 L118.5,297.5 L118.4,297.0 L118.3,296.5 L118.2,296.0 L118.1,295.5 L118.0,295.0 L118.0,294.5 L117.9,294.0 L117.9,293.5 L117.9,293.0 L118.0,292.5 L118.1,292.0 L118.1,291.5 L118.1,291.0 L118.0,290.5 L117.8,290.0 L117.8,289.5 L118.0,289.0 L118.2,288.5 L118.6,288.0 L119.1,287.5 L119.6,287.0 L120.0,286.5Z" fill="#33a7dd" stroke="#0b3550" stroke-width="0.62" stroke-linejoin="round"/>
<line x1="117.91" y1="290.35" x2="123.23" y2="290.35" stroke="#0b3550" stroke-width="0.55"/>
<line x1="117.92" y1="293.5" x2="123.22" y2="293.5" stroke="#0b3550" stroke-width="0.85"/>
<line x1="118.64" y1="298" x2="122.5" y2="298" stroke="#0b3550" stroke-width="0.55"/>
<line x1="131.5" y1="285.1" x2="131.5" y2="306.9" stroke="#585858" stroke-width="0.9"/>
<path d="M131.8,288.9 L132.0,289.4 L132.3,289.9 L132.6,290.4 L132.9,290.9 L133.1,291.4 L133.4,291.9 L133.6,292.4 L133.7,292.9 L133.9,293.4 L133.9,293.9 L134.0,294.4 L133.9,294.9 L133.9,295.4 L133.7,295.9 L133.6,296.4 L133.4,296.9 L133.1,297.4 L132.8,297.9 L132.5,298.4 L132.3,298.9 L132.0,299.4 L131.7,299.9 L131.1,299.9 L130.9,299.4 L130.6,298.9 L130.3,298.4 L130.0,297.9 L129.7,297.4 L129.5,296.9 L129.3,296.4 L129.1,295.9 L129.0,295.4 L128.9,294.9 L128.9,294.4 L128.9,293.9 L129.0,293.4 L129.1,292.9 L129.3,292.4 L129.5,291.9 L129.7,291.4 L130.0,290.9 L130.3,290.4 L130.5,289.9 L130.8,289.4 L131.1,288.9Z" fill="#33a7dd" stroke="#0b3550" stroke-width="0.62" stroke-linejoin="round"/>
<line x1="129.56" y1="291.7" x2="133.28" y2="291.7" stroke="#0b3550" stroke-width="0.55"/>
<line x1="128.87" y1="294.4" x2="133.97" y2="294.4" stroke="#0b3550" stroke-width="0.85"/>
<line x1="129.56" y1="297.05" x2="133.28" y2="297.05" stroke="#0b3550" stroke-width="0.55"/>
<line x1="150.5" y1="287.2" x2="150.5" y2="306.7" stroke="#585858" stroke-width="0.9"/>
<path d="M151.0,288.2 L151.3,288.7 L151.5,289.2 L151.6,289.7 L151.6,290.2 L151.5,290.7 L151.3,291.2 L151.0,291.7 L149.9,291.7 L149.6,291.2 L149.4,290.7 L149.3,290.2 L149.3,289.7 L149.4,289.2 L149.6,288.7 L149.9,288.2Z" fill="#d8106c" stroke="#4a0420" stroke-width="0.62" stroke-linejoin="round"/>
<path d="M151.1,295.7 L151.6,296.2 L152.0,296.7 L152.4,297.2 L152.7,297.7 L152.9,298.2 L153.0,298.7 L152.9,299.2 L152.8,299.7 L152.6,300.2 L152.3,300.7 L152.0,301.2 L151.7,301.7 L151.3,302.2 L150.9,302.7 L150.0,302.7 L149.6,302.2 L149.2,301.7 L148.9,301.2 L148.5,300.7 L148.3,300.2 L148.1,299.7 L147.9,299.2 L147.9,298.7 L148.0,298.2 L148.2,297.7 L148.5,297.2 L148.9,296.7 L149.3,296.2 L149.8,295.7Z" fill="#d8106c" stroke="#4a0420" stroke-width="0.62" stroke-linejoin="round"/>
<line x1="148.58" y1="297.03" x2="152.3" y2="297.03" stroke="#4a0420" stroke-width="0.55"/>
<line x1="147.89" y1="298.7" x2="152.99" y2="298.7" stroke="#4a0420" stroke-width="0.85"/>
<line x1="148.58" y1="300.77" x2="152.3" y2="300.77" stroke="#4a0420" stroke-width="0.55"/>
<line x1="161.5" y1="287.8" x2="161.5" y2="306.1" stroke="#585858" stroke-width="0.9"/>
<path d="M161.6,289.0 L161.8,289.5 L161.9,290.0 L162.1,290.5 L162.2,291.0 L162.3,291.5 L162.4,292.0 L162.5,292.5 L162.5,293.0 L162.5,293.5 L162.4,294.0 L162.3,294.5 L162.1,295.0 L161.9,295.5 L161.7,296.0 L160.9,296.0 L160.7,295.5 L160.5,295.0 L160.3,294.5 L160.2,294.0 L160.1,293.5 L160.1,293.0 L160.1,292.5 L160.2,292.0 L160.2,291.5 L160.4,291.0 L160.5,290.5 L160.6,290.0 L160.8,289.5 L161.0,289.0Z" fill="#d8106c" stroke="#4a0420" stroke-width="0.62" stroke-linejoin="round"/>
<path d="M162.1,297.0 L162.7,297.5 L163.2,298.0 L163.6,298.5 L163.6,299.0 L163.6,299.5 L163.4,300.0 L163.2,300.5 L162.9,301.0 L162.6,301.5 L162.2,302.0 L161.9,302.5 L160.7,302.5 L160.3,302.0 L160.0,301.5 L159.7,301.0 L159.4,300.5 L159.1,300.0 L159.0,299.5 L158.9,299.0 L159.0,298.5 L159.4,298.0 L159.9,297.5 L160.5,297.0Z" fill="#d8106c" stroke="#4a0420" stroke-width="0.62" stroke-linejoin="round"/>
<line x1="159.58" y1="297.77" x2="163" y2="297.77" stroke="#4a0420" stroke-width="0.55"/>
<line x1="158.94" y1="298.9" x2="163.64" y2="298.9" stroke="#4a0420" stroke-width="0.85"/>
<line x1="159.58" y1="300.88" x2="163" y2="300.88" stroke="#4a0420" stroke-width="0.55"/>
<line x1="172.5" y1="283.9" x2="172.5" y2="307.2" stroke="#585858" stroke-width="0.9"/>
<path d="M172.5,292.2 L172.7,292.7 L172.9,293.2 L173.2,293.7 L173.4,294.2 L173.7,294.7 L173.9,295.2 L174.1,295.7 L174.3,296.2 L174.4,296.7 L174.5,297.2 L174.5,297.7 L174.5,298.2 L174.4,298.7 L174.3,299.2 L174.2,299.7 L174.1,300.2 L173.9,300.7 L173.7,301.2 L173.4,301.7 L173.2,302.2 L173.0,302.7 L172.7,303.2 L172.5,303.7 L171.8,303.7 L171.5,303.2 L171.3,302.7 L171.1,302.2 L170.8,301.7 L170.6,301.2 L170.4,300.7 L170.2,300.2 L170.1,299.7 L169.9,299.2 L169.9,298.7 L169.8,298.2 L169.8,297.7 L169.8,297.2 L169.9,296.7 L170.0,296.2 L170.2,295.7 L170.4,295.2 L170.6,294.7 L170.8,294.2 L171.1,293.7 L171.3,293.2 L171.6,292.7 L171.8,292.2Z" fill="#d8106c" stroke="#4a0420" stroke-width="0.62" stroke-linejoin="round"/>
<line x1="170.43" y1="295.06" x2="173.85" y2="295.06" stroke="#4a0420" stroke-width="0.55"/>
<line x1="169.79" y1="297.8" x2="174.49" y2="297.8" stroke="#4a0420" stroke-width="0.85"/>
<line x1="170.43" y1="300.77" x2="173.85" y2="300.77" stroke="#4a0420" stroke-width="0.55"/>
<line x1="182.5" y1="279.4" x2="182.5" y2="306.1" stroke="#585858" stroke-width="0.9"/>
<path d="M183.3,292.7 L183.5,293.2 L183.8,293.7 L184.0,294.2 L184.2,294.7 L184.5,295.2 L184.7,295.7 L184.9,296.2 L185.1,296.7 L185.3,297.2 L185.4,297.7 L185.5,298.2 L185.5,298.7 L185.5,299.2 L185.5,299.7 L185.3,300.2 L185.0,300.7 L184.7,301.2 L184.3,301.7 L183.9,302.2 L183.5,302.7 L182.5,302.7 L182.1,302.2 L181.7,301.7 L181.3,301.2 L180.9,300.7 L180.7,300.2 L180.5,299.7 L180.4,299.2 L180.5,298.7 L180.5,298.2 L180.6,297.7 L180.7,297.2 L180.9,296.7 L181.0,296.2 L181.3,295.7 L181.5,295.2 L181.7,294.7 L182.0,294.2 L182.2,293.7 L182.5,293.2 L182.7,292.7Z" fill="#d8106c" stroke="#4a0420" stroke-width="0.62" stroke-linejoin="round"/>
<line x1="181.13" y1="296" x2="184.85" y2="296" stroke="#4a0420" stroke-width="0.55"/>
<line x1="180.44" y1="299.1" x2="185.54" y2="299.1" stroke="#4a0420" stroke-width="0.85"/>
<line x1="181.13" y1="300.99" x2="184.85" y2="300.99" stroke="#4a0420" stroke-width="0.55"/>
<line x1="202.5" y1="285" x2="202.5" y2="306.7" stroke="#585858" stroke-width="0.9"/>
<path d="M202.4,292.4 L202.7,292.9 L203.0,293.4 L203.3,293.9 L203.6,294.4 L203.9,294.9 L204.2,295.4 L204.4,295.9 L204.6,296.4 L204.7,296.9 L204.7,297.4 L204.8,297.9 L204.7,298.4 L204.6,298.9 L204.5,299.4 L204.3,299.9 L204.1,300.4 L203.9,300.9 L203.6,301.4 L203.3,301.9 L203.0,302.4 L202.7,302.9 L202.5,303.4 L201.6,303.4 L201.3,302.9 L201.0,302.4 L200.7,301.9 L200.4,301.4 L200.2,300.9 L199.9,300.4 L199.7,299.9 L199.5,299.4 L199.4,298.9 L199.3,298.4 L199.3,297.9 L199.3,297.4 L199.3,296.9 L199.5,296.4 L199.6,295.9 L199.8,295.4 L200.1,294.9 L200.4,294.4 L200.7,293.9 L201.0,293.4 L201.3,292.9 L201.6,292.4Z" fill="#c0ca8e" stroke="#3e4318" stroke-width="0.62" stroke-linejoin="round"/>
<line x1="200.01" y1="295.09" x2="204.01" y2="295.09" stroke="#3e4318" stroke-width="0.55"/>
<line x1="199.26" y1="297.7" x2="204.76" y2="297.7" stroke="#3e4318" stroke-width="0.85"/>
<line x1="200.01" y1="300.58" x2="204.01" y2="300.58" stroke="#3e4318" stroke-width="0.55"/>
<line x1="212.5" y1="281.9" x2="212.5" y2="307.3" stroke="#585858" stroke-width="0.9"/>
<path d="M213.2,294.0 L213.5,294.5 L213.8,295.0 L214.2,295.5 L214.5,296.0 L214.8,296.5 L215.0,297.0 L215.2,297.5 L215.4,298.0 L215.5,298.5 L215.6,299.0 L215.6,299.5 L215.6,300.0 L215.4,300.5 L215.3,301.0 L215.1,301.5 L214.8,302.0 L214.5,302.5 L214.2,303.0 L213.9,303.5 L213.6,304.0 L213.3,304.5 L212.4,304.5 L212.1,304.0 L211.8,303.5 L211.5,303.0 L211.2,302.5 L210.9,302.0 L210.7,301.5 L210.4,301.0 L210.3,300.5 L210.2,300.0 L210.1,299.5 L210.1,299.0 L210.2,298.5 L210.3,298.0 L210.5,297.5 L210.7,297.0 L211.0,296.5 L211.3,296.0 L211.6,295.5 L211.9,295.0 L212.2,294.5 L212.5,294.0Z" fill="#c0ca8e" stroke="#3e4318" stroke-width="0.62" stroke-linejoin="round"/>
<line x1="210.86" y1="296.69" x2="214.86" y2="296.69" stroke="#3e4318" stroke-width="0.55"/>
<line x1="210.11" y1="299.3" x2="215.61" y2="299.3" stroke="#3e4318" stroke-width="0.85"/>
<line x1="210.86" y1="301.91" x2="214.86" y2="301.91" stroke="#3e4318" stroke-width="0.55"/>
<line x1="223.5" y1="284.5" x2="223.5" y2="308.8" stroke="#585858" stroke-width="0.9"/>
<path d="M224.2,291.0 L224.4,291.5 L224.6,292.0 L224.8,292.5 L224.8,293.0 L224.8,293.5 L224.7,294.0 L224.7,294.5 L225.1,295.0 L225.6,295.5 L226.0,296.0 L226.3,296.5 L226.4,297.0 L226.5,297.5 L226.4,298.0 L226.3,298.5 L226.1,299.0 L226.0,299.5 L225.7,300.0 L225.5,300.5 L225.2,301.0 L224.9,301.5 L224.6,302.0 L224.3,302.5 L224.1,303.0 L223.3,303.0 L223.1,302.5 L222.8,302.0 L222.5,301.5 L222.2,301.0 L221.9,300.5 L221.7,300.0 L221.5,299.5 L221.3,299.0 L221.1,298.5 L221.0,298.0 L221.0,297.5 L221.0,297.0 L221.1,296.5 L221.4,296.0 L221.8,295.5 L222.3,295.0 L222.7,294.5 L222.8,294.0 L222.7,293.5 L222.6,293.0 L222.7,292.5 L222.8,292.0 L223.0,291.5 L223.2,291.0Z" fill="#c0ca8e" stroke="#3e4318" stroke-width="0.62" stroke-linejoin="round"/>
<line x1="221.71" y1="295.62" x2="225.71" y2="295.62" stroke="#3e4318" stroke-width="0.55"/>
<line x1="220.96" y1="297.2" x2="226.46" y2="297.2" stroke="#3e4318" stroke-width="0.85"/>
<line x1="221.71" y1="300.03" x2="225.71" y2="300.03" stroke="#3e4318" stroke-width="0.55"/>
<line x1="234.5" y1="286.1" x2="234.5" y2="307.8" stroke="#585858" stroke-width="0.9"/>
<path d="M234.9,293.5 L235.2,294.0 L235.4,294.5 L235.7,295.0 L236.0,295.5 L236.3,296.0 L236.5,296.5 L236.7,297.0 L236.8,297.5 L236.9,298.0 L237.0,298.5 L237.0,299.0 L237.0,299.5 L236.9,300.0 L236.7,300.5 L236.5,301.0 L236.3,301.5 L236.0,302.0 L235.8,302.5 L235.5,303.0 L235.2,303.5 L234.9,304.0 L234.2,304.0 L233.9,303.5 L233.6,303.0 L233.4,302.5 L233.1,302.0 L232.8,301.5 L232.6,301.0 L232.4,300.5 L232.3,300.0 L232.2,299.5 L232.1,299.0 L232.1,298.5 L232.2,298.0 L232.3,297.5 L232.4,297.0 L232.6,296.5 L232.9,296.0 L233.1,295.5 L233.4,295.0 L233.7,294.5 L234.0,294.0 L234.2,293.5Z" fill="#c0ca8e" stroke="#3e4318" stroke-width="0.62" stroke-linejoin="round"/>
<line x1="232.78" y1="296.19" x2="236.34" y2="296.19" stroke="#3e4318" stroke-width="0.55"/>
<line x1="232.11" y1="298.8" x2="237.01" y2="298.8" stroke="#3e4318" stroke-width="0.85"/>
<line x1="232.78" y1="301.41" x2="236.34" y2="301.41" stroke="#3e4318" stroke-width="0.55"/>
<path d="M131.5,229.7 V227.5 H235.5 V278.8" fill="none" stroke="#7a7a7a" stroke-width="0.95"/>
<circle cx="183.5" cy="223.4" r="1.12" fill="#222"/>
<path d="M98.5,251.7 V236.5 H202.5 V278" fill="none" stroke="#7a7a7a" stroke-width="0.95"/>
<circle cx="150.5" cy="232.4" r="1.12" fill="#222"/>
<path d="M120.5,250.8 V244.5 H172.5 V276.5" fill="none" stroke="#7a7a7a" stroke-width="0.95"/>
<circle cx="146.6" cy="240.4" r="1.12" fill="#222"/>
<path d="M98.5,262.5 V258.5 H150.5 V278.8" fill="none" stroke="#7a7a7a" stroke-width="0.95"/>
<circle cx="124.7" cy="254.4" r="1.12" fill="#222"/>
<text x="68.3" y="370.2" font-size="7.7" text-anchor="start" font-weight="normal" fill="#262626" textLength="27.3" lengthAdjust="spacingAndGlyphs">Y-RBCs</text>
<rect x="100.4" y="364.8" width="8.6" height="5.4" fill="#eb9a1e" stroke="#5a3000" stroke-width="0.9"/>
<text x="112.4" y="370.2" font-size="7.7" text-anchor="start" font-weight="normal" fill="#262626" textLength="9.8" lengthAdjust="spacingAndGlyphs">TM</text>
<rect x="127.9" y="364.8" width="8.6" height="5.4" fill="#33a7dd" stroke="#0b3550" stroke-width="0.9"/>
<text x="139.9" y="370.2" font-size="7.7" text-anchor="start" font-weight="normal" fill="#262626" textLength="8.6" lengthAdjust="spacingAndGlyphs">TF</text>
<rect x="155.4" y="364.8" width="8.6" height="5.4" fill="#d8106c" stroke="#4a0420" stroke-width="0.9"/>
<text x="167.4" y="370.2" font-size="7.7" text-anchor="start" font-weight="normal" fill="#262626" textLength="11" lengthAdjust="spacingAndGlyphs">SM</text>
<rect x="182.9" y="364.8" width="8.6" height="5.4" fill="#c0ca8e" stroke="#3e4318" stroke-width="0.9"/>
<text x="194.9" y="370.2" font-size="7.7" text-anchor="start" font-weight="normal" fill="#262626" textLength="8.9" lengthAdjust="spacingAndGlyphs">SF</text>
<line x1="361.9" y1="211.4" x2="361.9" y2="337.7" stroke="#ebebeb" stroke-width="1.1"/>
<line x1="413.47" y1="211.4" x2="413.47" y2="337.7" stroke="#ebebeb" stroke-width="1.1"/>
<line x1="465.04" y1="211.4" x2="465.04" y2="337.7" stroke="#ebebeb" stroke-width="1.1"/>
<line x1="313.8" y1="213" x2="313.8" y2="321.3" stroke="#2b2b2b" stroke-width="1.2"/>
<line x1="311.2" y1="320.7" x2="313.8" y2="320.7" stroke="#2b2b2b" stroke-width="1.1"/>
<text x="308" y="323.45" font-size="7.8" text-anchor="end" font-weight="normal" fill="#262626">0</text>
<line x1="311.2" y1="299.7" x2="313.8" y2="299.7" stroke="#2b2b2b" stroke-width="1.1"/>
<text x="308" y="302.45" font-size="7.8" text-anchor="end" font-weight="normal" fill="#262626">1</text>
<line x1="311.2" y1="278.7" x2="313.8" y2="278.7" stroke="#2b2b2b" stroke-width="1.1"/>
<text x="308" y="281.45" font-size="7.8" text-anchor="end" font-weight="normal" fill="#262626">2</text>
<line x1="311.2" y1="257.7" x2="313.8" y2="257.7" stroke="#2b2b2b" stroke-width="1.1"/>
<text x="308" y="260.45" font-size="7.8" text-anchor="end" font-weight="normal" fill="#262626">3</text>
<line x1="311.2" y1="236.7" x2="313.8" y2="236.7" stroke="#2b2b2b" stroke-width="1.1"/>
<text x="308" y="239.45" font-size="7.8" text-anchor="end" font-weight="normal" fill="#262626">4</text>
<line x1="311.2" y1="215.7" x2="313.8" y2="215.7" stroke="#2b2b2b" stroke-width="1.1"/>
<text x="308" y="218.45" font-size="7.8" text-anchor="end" font-weight="normal" fill="#262626">5</text>
<line x1="313.2" y1="320.7" x2="513.2" y2="320.7" stroke="#2b2b2b" stroke-width="1.2"/>
<line x1="319.6" y1="320.7" x2="319.6" y2="323.3" stroke="#2b2b2b" stroke-width="1"/>
<text x="319.8" y="333.7" font-size="8" text-anchor="middle" font-weight="normal" fill="#262626">5</text>
<line x1="330.45" y1="320.7" x2="330.45" y2="323.3" stroke="#2b2b2b" stroke-width="1"/>
<text x="330.65" y="333.7" font-size="8" text-anchor="middle" font-weight="normal" fill="#262626">14</text>
<line x1="341.3" y1="320.7" x2="341.3" y2="323.3" stroke="#2b2b2b" stroke-width="1"/>
<text x="341.5" y="333.7" font-size="8" text-anchor="middle" font-weight="normal" fill="#262626">28</text>
<line x1="352.15" y1="320.7" x2="352.15" y2="323.3" stroke="#2b2b2b" stroke-width="1"/>
<text x="352.35" y="333.7" font-size="8" text-anchor="middle" font-weight="normal" fill="#262626">42</text>
<text x="335.9" y="345.2" font-size="8.4" text-anchor="middle" font-weight="normal" fill="#262626" textLength="9.8" lengthAdjust="spacingAndGlyphs">TM</text>
<line x1="371.17" y1="320.7" x2="371.17" y2="323.3" stroke="#2b2b2b" stroke-width="1"/>
<text x="371.37" y="333.7" font-size="8" text-anchor="middle" font-weight="normal" fill="#262626">5</text>
<line x1="382.02" y1="320.7" x2="382.02" y2="323.3" stroke="#2b2b2b" stroke-width="1"/>
<text x="382.22" y="333.7" font-size="8" text-anchor="middle" font-weight="normal" fill="#262626">14</text>
<line x1="392.87" y1="320.7" x2="392.87" y2="323.3" stroke="#2b2b2b" stroke-width="1"/>
<text x="393.07" y="333.7" font-size="8" text-anchor="middle" font-weight="normal" fill="#262626">28</text>
<line x1="403.72" y1="320.7" x2="403.72" y2="323.3" stroke="#2b2b2b" stroke-width="1"/>
<text x="403.92" y="333.7" font-size="8" text-anchor="middle" font-weight="normal" fill="#262626">42</text>
<text x="387.47" y="345.2" font-size="8.4" text-anchor="middle" font-weight="normal" fill="#262626" textLength="8.6" lengthAdjust="spacingAndGlyphs">TF</text>
<line x1="422.74" y1="320.7" x2="422.74" y2="323.3" stroke="#2b2b2b" stroke-width="1"/>
<text x="422.94" y="333.7" font-size="8" text-anchor="middle" font-weight="normal" fill="#262626">5</text>
<line x1="433.59" y1="320.7" x2="433.59" y2="323.3" stroke="#2b2b2b" stroke-width="1"/>
<text x="433.79" y="333.7" font-size="8" text-anchor="middle" font-weight="normal" fill="#262626">14</text>
<line x1="444.44" y1="320.7" x2="444.44" y2="323.3" stroke="#2b2b2b" stroke-width="1"/>
<text x="444.64" y="333.7" font-size="8" text-anchor="middle" font-weight="normal" fill="#262626">28</text>
<line x1="455.29" y1="320.7" x2="455.29" y2="323.3" stroke="#2b2b2b" stroke-width="1"/>
<text x="455.49" y="333.7" font-size="8" text-anchor="middle" font-weight="normal" fill="#262626">42</text>
<text x="439.04" y="345.2" font-size="8.4" text-anchor="middle" font-weight="normal" fill="#262626" textLength="11" lengthAdjust="spacingAndGlyphs">SM</text>
<line x1="474.31" y1="320.7" x2="474.31" y2="323.3" stroke="#2b2b2b" stroke-width="1"/>
<text x="474.51" y="333.7" font-size="8" text-anchor="middle" font-weight="normal" fill="#262626">5</text>
<line x1="485.16" y1="320.7" x2="485.16" y2="323.3" stroke="#2b2b2b" stroke-width="1"/>
<text x="485.36" y="333.7" font-size="8" text-anchor="middle" font-weight="normal" fill="#262626">14</text>
<line x1="496.01" y1="320.7" x2="496.01" y2="323.3" stroke="#2b2b2b" stroke-width="1"/>
<text x="496.21" y="333.7" font-size="8" text-anchor="middle" font-weight="normal" fill="#262626">28</text>
<line x1="506.86" y1="320.7" x2="506.86" y2="323.3" stroke="#2b2b2b" stroke-width="1"/>
<text x="507.06" y="333.7" font-size="8" text-anchor="middle" font-weight="normal" fill="#262626">42</text>
<text x="490.61" y="345.2" font-size="8.4" text-anchor="middle" font-weight="normal" fill="#262626" textLength="8.9" lengthAdjust="spacingAndGlyphs">SF</text>
<text x="413.5" y="358.4" font-size="8.9" text-anchor="middle" font-weight="bold" fill="#262626" textLength="41" lengthAdjust="spacingAndGlyphs">Day of storage</text>
<text transform="translate(297.5,267) rotate(-90)" font-size="8.8" text-anchor="middle" fill="#262626" style="stroke-width:0.4px" textLength="36.8" lengthAdjust="spacingAndGlyphs">Rigidity (K<tspan font-size="5" dy="1.5">E</tspan><tspan dy="-1.5">)</tspan></text>
<text x="271.5" y="208" font-size="10.6" text-anchor="start" font-weight="bold" fill="#111" style="stroke-width:0.45px">D</text>
<line x1="319.5" y1="265.6" x2="319.5" y2="299.9" stroke="#585858" stroke-width="0.9"/>
<path d="M319.9,273.5 L320.0,274.0 L320.1,274.5 L320.2,275.0 L320.3,275.5 L320.4,276.0 L320.5,276.5 L320.6,277.0 L320.6,277.5 L320.7,278.0 L320.7,278.5 L320.7,279.0 L320.7,279.5 L320.7,280.0 L320.6,280.5 L320.5,281.0 L320.4,281.5 L320.3,282.0 L320.3,282.5 L320.3,283.0 L320.5,283.5 L320.7,284.0 L321.0,284.5 L321.2,285.0 L321.4,285.5 L321.6,286.0 L321.8,286.5 L321.9,287.0 L322.0,287.5 L322.1,288.0 L322.1,288.5 L322.1,289.0 L322.1,289.5 L322.1,290.0 L322.0,290.5 L321.9,291.0 L321.8,291.5 L321.6,292.0 L321.5,292.5 L321.3,293.0 L321.1,293.5 L320.9,294.0 L320.7,294.5 L320.5,295.0 L320.3,295.5 L320.1,296.0 L320.0,296.5 L319.2,296.5 L319.1,296.0 L318.9,295.5 L318.7,295.0 L318.5,294.5 L318.3,294.0 L318.1,293.5 L317.9,293.0 L317.7,292.5 L317.6,292.0 L317.4,291.5 L317.3,291.0 L317.2,290.5 L317.1,290.0 L317.1,289.5 L317.1,289.0 L317.1,288.5 L317.1,288.0 L317.2,287.5 L317.3,287.0 L317.4,286.5 L317.6,286.0 L317.8,285.5 L318.0,285.0 L318.2,284.5 L318.5,284.0 L318.7,283.5 L318.9,283.0 L318.9,282.5 L318.9,282.0 L318.8,281.5 L318.7,281.0 L318.6,280.5 L318.5,280.0 L318.5,279.5 L318.5,279.0 L318.5,278.5 L318.5,278.0 L318.6,277.5 L318.6,277.0 L318.7,276.5 L318.8,276.0 L318.9,275.5 L319.0,275.0 L319.1,274.5 L319.2,274.0 L319.3,273.5Z" fill="#eb9a1e" stroke="#5a3000" stroke-width="0.62" stroke-linejoin="round"/>
<line x1="317.74" y1="285.55" x2="321.46" y2="285.55" stroke="#5a3000" stroke-width="0.55"/>
<line x1="317.05" y1="288.7" x2="322.15" y2="288.7" stroke="#5a3000" stroke-width="0.85"/>
<line x1="317.74" y1="292.57" x2="321.46" y2="292.57" stroke="#5a3000" stroke-width="0.55"/>
<line x1="330.5" y1="258.3" x2="330.5" y2="302.6" stroke="#585858" stroke-width="0.9"/>
<path d="M330.8,276.6 L331.1,277.1 L331.5,277.6 L331.8,278.1 L332.1,278.6 L332.4,279.1 L332.6,279.6 L332.7,280.1 L332.8,280.6 L332.8,281.1 L332.7,281.6 L332.6,282.1 L332.4,282.6 L332.2,283.1 L332.0,283.6 L332.0,284.1 L332.1,284.6 L332.3,285.1 L332.5,285.6 L332.8,286.1 L332.9,286.6 L333.1,287.1 L333.2,287.6 L333.3,288.1 L333.3,288.6 L333.3,289.1 L333.3,289.6 L333.2,290.1 L333.1,290.6 L333.0,291.1 L332.9,291.6 L332.7,292.1 L332.5,292.6 L332.3,293.1 L332.1,293.6 L331.9,294.1 L331.7,294.6 L331.4,295.1 L331.2,295.6 L331.0,296.1 L330.8,296.6 L330.1,296.6 L329.9,296.1 L329.7,295.6 L329.5,295.1 L329.2,294.6 L329.0,294.1 L328.8,293.6 L328.6,293.1 L328.4,292.6 L328.2,292.1 L328.0,291.6 L327.9,291.1 L327.8,290.6 L327.7,290.1 L327.6,289.6 L327.6,289.1 L327.6,288.6 L327.6,288.1 L327.7,287.6 L327.8,287.1 L328.0,286.6 L328.1,286.1 L328.4,285.6 L328.6,285.1 L328.8,284.6 L328.9,284.1 L328.9,283.6 L328.7,283.1 L328.5,282.6 L328.3,282.1 L328.2,281.6 L328.1,281.1 L328.1,280.6 L328.2,280.1 L328.3,279.6 L328.5,279.1 L328.8,278.6 L329.1,278.1 L329.4,277.6 L329.8,277.1 L330.1,276.6Z" fill="#eb9a1e" stroke="#5a3000" stroke-width="0.62" stroke-linejoin="round"/>
<line x1="328.37" y1="285.55" x2="332.53" y2="285.55" stroke="#5a3000" stroke-width="0.55"/>
<line x1="327.6" y1="288.7" x2="333.3" y2="288.7" stroke="#5a3000" stroke-width="0.85"/>
<line x1="328.37" y1="292.57" x2="332.53" y2="292.57" stroke="#5a3000" stroke-width="0.55"/>
<line x1="341.5" y1="264.2" x2="341.5" y2="300.6" stroke="#585858" stroke-width="0.9"/>
<path d="M341.6,273.2 L341.8,273.7 L341.9,274.2 L342.1,274.7 L342.3,275.2 L342.4,275.7 L342.6,276.2 L342.7,276.7 L342.8,277.2 L342.9,277.7 L343.0,278.2 L343.1,278.7 L343.1,279.2 L343.1,279.7 L343.1,280.2 L343.1,280.7 L343.1,281.2 L343.0,281.7 L342.9,282.2 L342.9,282.7 L342.9,283.2 L343.0,283.7 L343.1,284.2 L343.3,284.7 L343.4,285.2 L343.6,285.7 L343.7,286.2 L343.8,286.7 L343.8,287.2 L343.8,287.7 L343.8,288.2 L343.8,288.7 L343.8,289.2 L343.7,289.7 L343.6,290.2 L343.5,290.7 L343.4,291.2 L343.3,291.7 L343.2,292.2 L343.0,292.7 L342.8,293.2 L342.6,293.7 L342.5,294.2 L342.3,294.7 L342.1,295.2 L341.9,295.7 L341.7,296.2 L340.9,296.2 L340.7,295.7 L340.5,295.2 L340.3,294.7 L340.1,294.2 L340.0,293.7 L339.8,293.2 L339.6,292.7 L339.4,292.2 L339.3,291.7 L339.2,291.2 L339.1,290.7 L339.0,290.2 L338.9,289.7 L338.8,289.2 L338.8,288.7 L338.8,288.2 L338.8,287.7 L338.8,287.2 L338.8,286.7 L338.9,286.2 L339.0,285.7 L339.2,285.2 L339.3,284.7 L339.5,284.2 L339.6,283.7 L339.7,283.2 L339.7,282.7 L339.7,282.2 L339.6,281.7 L339.5,281.2 L339.5,280.7 L339.5,280.2 L339.5,279.7 L339.5,279.2 L339.5,278.7 L339.6,278.2 L339.7,277.7 L339.8,277.2 L339.9,276.7 L340.0,276.2 L340.2,275.7 L340.3,275.2 L340.5,274.7 L340.7,274.2 L340.8,273.7 L341.0,273.2Z" fill="#eb9a1e" stroke="#5a3000" stroke-width="0.62" stroke-linejoin="round"/>
<line x1="339.41" y1="284.4" x2="343.19" y2="284.4" stroke="#5a3000" stroke-width="0.55"/>
<line x1="338.75" y1="288" x2="343.85" y2="288" stroke="#5a3000" stroke-width="0.85"/>
<line x1="339.44" y1="292.19" x2="343.16" y2="292.19" stroke="#5a3000" stroke-width="0.55"/>
<line x1="352.5" y1="249.3" x2="352.5" y2="301.2" stroke="#585858" stroke-width="0.9"/>
<path d="M352.6,274.5 L352.8,275.0 L352.9,275.5 L353.1,276.0 L353.3,276.5 L353.5,277.0 L353.7,277.5 L353.9,278.0 L354.1,278.5 L354.2,279.0 L354.4,279.5 L354.5,280.0 L354.7,280.5 L354.8,281.0 L354.9,281.5 L354.9,282.0 L355.0,282.5 L355.0,283.0 L355.0,283.5 L355.0,284.0 L355.0,284.5 L354.9,285.0 L354.9,285.5 L354.9,286.0 L354.8,286.5 L354.7,287.0 L354.7,287.5 L354.6,288.0 L354.5,288.5 L354.4,289.0 L354.3,289.5 L354.1,290.0 L354.0,290.5 L353.9,291.0 L353.8,291.5 L353.6,292.0 L353.5,292.5 L353.4,293.0 L353.2,293.5 L353.1,294.0 L352.9,294.5 L352.8,295.0 L352.7,295.5 L352.6,296.0 L352.5,296.5 L351.8,296.5 L351.7,296.0 L351.6,295.5 L351.5,295.0 L351.4,294.5 L351.2,294.0 L351.1,293.5 L350.9,293.0 L350.8,292.5 L350.7,292.0 L350.5,291.5 L350.4,291.0 L350.3,290.5 L350.2,290.0 L350.0,289.5 L349.9,289.0 L349.8,288.5 L349.7,288.0 L349.6,287.5 L349.6,287.0 L349.5,286.5 L349.4,286.0 L349.4,285.5 L349.4,285.0 L349.3,284.5 L349.3,284.0 L349.3,283.5 L349.3,283.0 L349.3,282.5 L349.4,282.0 L349.4,281.5 L349.5,281.0 L349.6,280.5 L349.8,280.0 L349.9,279.5 L350.1,279.0 L350.2,278.5 L350.4,278.0 L350.6,277.5 L350.8,277.0 L351.0,276.5 L351.2,276.0 L351.4,275.5 L351.5,275.0 L351.7,274.5Z" fill="#eb9a1e" stroke="#5a3000" stroke-width="0.62" stroke-linejoin="round"/>
<line x1="350.07" y1="278.94" x2="354.23" y2="278.94" stroke="#5a3000" stroke-width="0.55"/>
<line x1="349.3" y1="283.4" x2="355" y2="283.4" stroke="#5a3000" stroke-width="0.85"/>
<line x1="350.07" y1="289.65" x2="354.23" y2="289.65" stroke="#5a3000" stroke-width="0.55"/>
<line x1="371.5" y1="228.8" x2="371.5" y2="300.7" stroke="#585858" stroke-width="0.9"/>
<path d="M371.17,230 L372.07,232.6 L371.17,235.2 L370.27,232.6Z" fill="#33a7dd" stroke="#0b3550" stroke-width="0.5"/>
<path d="M371.17,263.9 L372.07,266.5 L371.17,269.1 L370.27,266.5Z" fill="#33a7dd" stroke="#0b3550" stroke-width="0.5"/>
<path d="M371.6,277.9 L371.8,278.4 L371.9,278.9 L372.1,279.4 L372.3,279.9 L372.5,280.4 L372.7,280.9 L372.9,281.4 L373.0,281.9 L373.2,282.4 L373.3,282.9 L373.4,283.4 L373.4,283.9 L373.5,284.4 L373.5,284.9 L373.5,285.4 L373.5,285.9 L373.5,286.4 L373.5,286.9 L373.4,287.4 L373.3,287.9 L373.3,288.4 L373.2,288.9 L373.1,289.4 L373.0,289.9 L372.9,290.4 L372.8,290.9 L372.7,291.4 L372.6,291.9 L372.4,292.4 L372.3,292.9 L372.2,293.4 L372.0,293.9 L371.9,294.4 L371.8,294.9 L371.7,295.4 L371.5,295.9 L370.8,295.9 L370.7,295.4 L370.6,294.9 L370.4,294.4 L370.3,293.9 L370.2,293.4 L370.0,292.9 L369.9,292.4 L369.8,291.9 L369.7,291.4 L369.5,290.9 L369.4,290.4 L369.3,289.9 L369.2,289.4 L369.1,288.9 L369.1,288.4 L369.0,287.9 L368.9,287.4 L368.9,286.9 L368.9,286.4 L368.8,285.9 L368.8,285.4 L368.8,284.9 L368.9,284.4 L368.9,283.9 L369.0,283.4 L369.1,282.9 L369.2,282.4 L369.3,281.9 L369.5,281.4 L369.6,280.9 L369.8,280.4 L370.0,279.9 L370.2,279.4 L370.4,278.9 L370.6,278.4 L370.8,277.9Z" fill="#33a7dd" stroke="#0b3550" stroke-width="0.62" stroke-linejoin="round"/>
<line x1="369.46" y1="281.46" x2="372.88" y2="281.46" stroke="#0b3550" stroke-width="0.55"/>
<line x1="368.82" y1="285.2" x2="373.52" y2="285.2" stroke="#0b3550" stroke-width="0.85"/>
<line x1="369.46" y1="290.56" x2="372.88" y2="290.56" stroke="#0b3550" stroke-width="0.55"/>
<line x1="382.5" y1="240.1" x2="382.5" y2="301.9" stroke="#585858" stroke-width="0.9"/>
<path d="M382.02,245 L382.92,247.6 L382.02,250.2 L381.12,247.6Z" fill="#33a7dd" stroke="#0b3550" stroke-width="0.5"/>
<path d="M382.02,262.6 L382.92,265.2 L382.02,267.8 L381.12,265.2Z" fill="#33a7dd" stroke="#0b3550" stroke-width="0.5"/>
<path d="M382.5,276.7 L382.7,277.2 L382.9,277.7 L383.1,278.2 L383.3,278.7 L383.5,279.2 L383.7,279.7 L383.9,280.2 L384.1,280.7 L384.3,281.2 L384.4,281.7 L384.5,282.2 L384.6,282.7 L384.6,283.2 L384.7,283.7 L384.7,284.2 L384.7,284.7 L384.6,285.2 L384.6,285.7 L384.6,286.2 L384.5,286.7 L384.5,287.2 L384.4,287.7 L384.4,288.2 L384.3,288.7 L384.2,289.2 L384.1,289.7 L384.0,290.2 L383.9,290.7 L383.8,291.2 L383.7,291.7 L383.6,292.2 L383.4,292.7 L383.3,293.2 L383.2,293.7 L383.1,294.2 L382.9,294.7 L382.8,295.2 L382.7,295.7 L382.6,296.2 L382.5,296.7 L382.4,297.2 L381.7,297.2 L381.6,296.7 L381.5,296.2 L381.3,295.7 L381.2,295.2 L381.1,294.7 L381.0,294.2 L380.9,293.7 L380.7,293.2 L380.6,292.7 L380.5,292.2 L380.4,291.7 L380.3,291.2 L380.1,290.7 L380.0,290.2 L379.9,289.7 L379.9,289.2 L379.8,288.7 L379.7,288.2 L379.6,287.7 L379.6,287.2 L379.5,286.7 L379.5,286.2 L379.4,285.7 L379.4,285.2 L379.4,284.7 L379.4,284.2 L379.4,283.7 L379.4,283.2 L379.5,282.7 L379.5,282.2 L379.7,281.7 L379.8,281.2 L379.9,280.7 L380.1,280.2 L380.3,279.7 L380.5,279.2 L380.7,278.7 L380.9,278.2 L381.1,277.7 L381.4,277.2 L381.5,276.7Z" fill="#33a7dd" stroke="#0b3550" stroke-width="0.62" stroke-linejoin="round"/>
<line x1="380.09" y1="280.26" x2="383.95" y2="280.26" stroke="#0b3550" stroke-width="0.55"/>
<line x1="379.37" y1="284" x2="384.67" y2="284" stroke="#0b3550" stroke-width="0.85"/>
<line x1="380.09" y1="290.44" x2="383.95" y2="290.44" stroke="#0b3550" stroke-width="0.55"/>
<line x1="392.5" y1="233.8" x2="392.5" y2="303.7" stroke="#585858" stroke-width="0.9"/>
<path d="M392.87,240 L393.77,242.6 L392.87,245.2 L391.97,242.6Z" fill="#33a7dd" stroke="#0b3550" stroke-width="0.5"/>
<path d="M392.87,256.4 L393.77,259 L392.87,261.6 L391.97,259Z" fill="#33a7dd" stroke="#0b3550" stroke-width="0.5"/>
<path d="M393.3,276.1 L393.4,276.6 L393.6,277.1 L393.7,277.6 L393.9,278.1 L394.1,278.6 L394.2,279.1 L394.4,279.6 L394.6,280.1 L394.7,280.6 L394.8,281.1 L395.0,281.6 L395.1,282.1 L395.2,282.6 L395.3,283.1 L395.3,283.6 L395.4,284.1 L395.4,284.6 L395.4,285.1 L395.4,285.6 L395.4,286.1 L395.4,286.6 L395.4,287.1 L395.3,287.6 L395.3,288.1 L395.2,288.6 L395.2,289.1 L395.1,289.6 L395.0,290.1 L394.9,290.6 L394.8,291.1 L394.7,291.6 L394.6,292.1 L394.5,292.6 L394.4,293.1 L394.3,293.6 L394.2,294.1 L394.1,294.6 L393.9,295.1 L393.8,295.6 L393.7,296.1 L393.6,296.6 L393.5,297.1 L393.4,297.6 L393.3,298.1 L392.5,298.1 L392.4,297.6 L392.3,297.1 L392.2,296.6 L392.0,296.1 L391.9,295.6 L391.8,295.1 L391.7,294.6 L391.6,294.1 L391.4,293.6 L391.3,293.1 L391.2,292.6 L391.1,292.1 L391.0,291.6 L390.9,291.1 L390.8,290.6 L390.7,290.1 L390.7,289.6 L390.6,289.1 L390.5,288.6 L390.5,288.1 L390.4,287.6 L390.4,287.1 L390.4,286.6 L390.3,286.1 L390.3,285.6 L390.3,285.1 L390.3,284.6 L390.4,284.1 L390.4,283.6 L390.5,283.1 L390.6,282.6 L390.7,282.1 L390.8,281.6 L390.9,281.1 L391.0,280.6 L391.2,280.1 L391.3,279.6 L391.5,279.1 L391.7,278.6 L391.8,278.1 L392.0,277.6 L392.2,277.1 L392.3,276.6 L392.5,276.1Z" fill="#33a7dd" stroke="#0b3550" stroke-width="0.62" stroke-linejoin="round"/>
<line x1="391.01" y1="280.65" x2="394.73" y2="280.65" stroke="#0b3550" stroke-width="0.55"/>
<line x1="390.32" y1="285.2" x2="395.42" y2="285.2" stroke="#0b3550" stroke-width="0.85"/>
<line x1="391.01" y1="291.63" x2="394.73" y2="291.63" stroke="#0b3550" stroke-width="0.55"/>
<line x1="403.5" y1="231.3" x2="403.5" y2="300.7" stroke="#585858" stroke-width="0.9"/>
<path d="M403.72,235 L404.62,237.6 L403.72,240.2 L402.82,237.6Z" fill="#33a7dd" stroke="#0b3550" stroke-width="0.5"/>
<path d="M404.1,274.9 L404.2,275.4 L404.4,275.9 L404.5,276.4 L404.7,276.9 L404.9,277.4 L405.0,277.9 L405.2,278.4 L405.3,278.9 L405.5,279.4 L405.6,279.9 L405.7,280.4 L405.8,280.9 L406.0,281.4 L406.0,281.9 L406.1,282.4 L406.2,282.9 L406.2,283.4 L406.3,283.9 L406.3,284.4 L406.3,284.9 L406.3,285.4 L406.2,285.9 L406.2,286.4 L406.1,286.9 L406.1,287.4 L406.0,287.9 L405.9,288.4 L405.9,288.9 L405.8,289.4 L405.7,289.9 L405.5,290.4 L405.4,290.9 L405.3,291.4 L405.2,291.9 L405.0,292.4 L404.9,292.9 L404.8,293.4 L404.6,293.9 L404.5,294.4 L404.3,294.9 L404.2,295.4 L404.1,295.9 L403.3,295.9 L403.2,295.4 L403.1,294.9 L403.0,294.4 L402.8,293.9 L402.7,293.4 L402.6,292.9 L402.4,292.4 L402.3,291.9 L402.1,291.4 L402.0,290.9 L401.9,290.4 L401.8,289.9 L401.7,289.4 L401.6,288.9 L401.5,288.4 L401.4,287.9 L401.4,287.4 L401.3,286.9 L401.2,286.4 L401.2,285.9 L401.2,285.4 L401.2,284.9 L401.2,284.4 L401.2,283.9 L401.2,283.4 L401.3,282.9 L401.3,282.4 L401.4,281.9 L401.5,281.4 L401.6,280.9 L401.7,280.4 L401.8,279.9 L402.0,279.4 L402.1,278.9 L402.3,278.4 L402.4,277.9 L402.6,277.4 L402.7,276.9 L402.9,276.4 L403.1,275.9 L403.2,275.4 L403.3,274.9Z" fill="#33a7dd" stroke="#0b3550" stroke-width="0.62" stroke-linejoin="round"/>
<line x1="401.86" y1="279.79" x2="405.58" y2="279.79" stroke="#0b3550" stroke-width="0.55"/>
<line x1="401.17" y1="284.6" x2="406.27" y2="284.6" stroke="#0b3550" stroke-width="0.85"/>
<line x1="401.86" y1="290.23" x2="405.58" y2="290.23" stroke="#0b3550" stroke-width="0.55"/>
<line x1="422.5" y1="266.7" x2="422.5" y2="300.8" stroke="#585858" stroke-width="0.9"/>
<path d="M423.1,273.2 L423.3,273.7 L423.5,274.2 L423.6,274.7 L423.8,275.2 L424.0,275.7 L424.1,276.2 L424.2,276.7 L424.2,277.2 L424.3,277.7 L424.3,278.2 L424.3,278.7 L424.2,279.2 L424.1,279.7 L424.1,280.2 L424.0,280.7 L424.1,281.2 L424.1,281.7 L424.3,282.2 L424.4,282.7 L424.6,283.2 L424.7,283.7 L424.9,284.2 L425.0,284.7 L425.1,285.2 L425.2,285.7 L425.2,286.2 L425.3,286.7 L425.3,287.2 L425.3,287.7 L425.3,288.2 L425.2,288.7 L425.1,289.2 L425.0,289.7 L424.9,290.2 L424.8,290.7 L424.6,291.2 L424.4,291.7 L424.2,292.2 L424.1,292.7 L423.9,293.2 L423.7,293.7 L423.5,294.2 L423.3,294.7 L423.1,295.2 L422.4,295.2 L422.2,294.7 L422.0,294.2 L421.8,293.7 L421.6,293.2 L421.4,292.7 L421.2,292.2 L421.0,291.7 L420.9,291.2 L420.7,290.7 L420.6,290.2 L420.5,289.7 L420.4,289.2 L420.3,288.7 L420.2,288.2 L420.2,287.7 L420.2,287.2 L420.2,286.7 L420.2,286.2 L420.3,285.7 L420.4,285.2 L420.5,284.7 L420.6,284.2 L420.7,283.7 L420.9,283.2 L421.1,282.7 L421.2,282.2 L421.3,281.7 L421.4,281.2 L421.4,280.7 L421.4,280.2 L421.3,279.7 L421.3,279.2 L421.2,278.7 L421.2,278.2 L421.2,277.7 L421.2,277.2 L421.3,276.7 L421.4,276.2 L421.5,275.7 L421.7,275.2 L421.8,274.7 L422.0,274.2 L422.2,273.7 L422.4,273.2Z" fill="#d8106c" stroke="#4a0420" stroke-width="0.62" stroke-linejoin="round"/>
<line x1="420.88" y1="283.25" x2="424.6" y2="283.25" stroke="#4a0420" stroke-width="0.55"/>
<line x1="420.19" y1="287.3" x2="425.29" y2="287.3" stroke="#4a0420" stroke-width="0.85"/>
<line x1="420.88" y1="291.22" x2="424.6" y2="291.22" stroke="#4a0420" stroke-width="0.55"/>
<line x1="433.5" y1="257.9" x2="433.5" y2="302.4" stroke="#585858" stroke-width="0.9"/>
<path d="M434.0,274.8 L434.2,275.3 L434.5,275.8 L434.6,276.3 L434.8,276.8 L434.9,277.3 L434.9,277.8 L434.9,278.3 L434.9,278.8 L434.8,279.3 L434.7,279.8 L434.8,280.3 L435.0,280.8 L435.2,281.3 L435.4,281.8 L435.5,282.3 L435.6,282.8 L435.6,283.3 L435.6,283.8 L435.6,284.3 L435.5,284.8 L435.5,285.3 L435.5,285.8 L435.6,286.3 L435.7,286.8 L435.9,287.3 L436.1,287.8 L436.2,288.3 L436.4,288.8 L436.4,289.3 L436.5,289.8 L436.5,290.3 L436.5,290.8 L436.5,291.3 L436.4,291.8 L436.3,292.3 L436.1,292.8 L435.9,293.3 L435.7,293.8 L435.4,294.3 L435.2,294.8 L434.9,295.3 L434.6,295.8 L434.3,296.3 L434.1,296.8 L433.1,296.8 L432.8,296.3 L432.6,295.8 L432.3,295.3 L432.0,294.8 L431.7,294.3 L431.5,293.8 L431.3,293.3 L431.1,292.8 L430.9,292.3 L430.8,291.8 L430.7,291.3 L430.6,290.8 L430.6,290.3 L430.7,289.8 L430.7,289.3 L430.8,288.8 L431.0,288.3 L431.1,287.8 L431.3,287.3 L431.4,286.8 L431.6,286.3 L431.7,285.8 L431.7,285.3 L431.6,284.8 L431.6,284.3 L431.5,283.8 L431.5,283.3 L431.6,282.8 L431.7,282.3 L431.8,281.8 L432.0,281.3 L432.2,280.8 L432.4,280.3 L432.4,279.8 L432.4,279.3 L432.3,278.8 L432.3,278.3 L432.2,277.8 L432.3,277.3 L432.4,276.8 L432.5,276.3 L432.7,275.8 L432.9,275.3 L433.1,274.8Z" fill="#d8106c" stroke="#4a0420" stroke-width="0.62" stroke-linejoin="round"/>
<line x1="431.41" y1="286.9" x2="435.77" y2="286.9" stroke="#4a0420" stroke-width="0.55"/>
<line x1="430.64" y1="290.5" x2="436.54" y2="290.5" stroke="#4a0420" stroke-width="0.85"/>
<line x1="431.44" y1="293.69" x2="435.74" y2="293.69" stroke="#4a0420" stroke-width="0.55"/>
<line x1="444.5" y1="254.8" x2="444.5" y2="304" stroke="#585858" stroke-width="0.9"/>
<path d="M444.8,267.9 L444.9,268.4 L444.9,268.9 L445.0,269.4 L445.1,269.9 L445.2,270.4 L445.2,270.9 L445.3,271.4 L445.4,271.9 L445.4,272.4 L445.5,272.9 L445.5,273.4 L445.5,273.9 L445.5,274.4 L445.5,274.9 L445.5,275.4 L445.5,275.9 L445.5,276.4 L445.5,276.9 L445.4,277.4 L445.3,277.9 L445.3,278.4 L445.2,278.9 L445.2,279.4 L445.3,279.9 L445.4,280.4 L445.6,280.9 L445.8,281.4 L446.0,281.9 L446.2,282.4 L446.3,282.9 L446.5,283.4 L446.7,283.9 L446.8,284.4 L447.0,284.9 L447.1,285.4 L447.2,285.9 L447.3,286.4 L447.3,286.9 L447.4,287.4 L447.4,287.9 L447.4,288.4 L447.4,288.9 L447.3,289.4 L447.3,289.9 L447.2,290.4 L447.1,290.9 L447.0,291.4 L446.8,291.9 L446.7,292.4 L446.5,292.9 L446.4,293.4 L446.2,293.9 L446.0,294.4 L445.8,294.9 L445.6,295.4 L445.4,295.9 L445.2,296.4 L445.1,296.9 L444.9,297.4 L444.0,297.4 L443.8,296.9 L443.6,296.4 L443.5,295.9 L443.3,295.4 L443.1,294.9 L442.9,294.4 L442.7,293.9 L442.5,293.4 L442.3,292.9 L442.2,292.4 L442.0,291.9 L441.9,291.4 L441.8,290.9 L441.7,290.4 L441.6,289.9 L441.6,289.4 L441.5,288.9 L441.5,288.4 L441.5,287.9 L441.5,287.4 L441.6,286.9 L441.6,286.4 L441.7,285.9 L441.8,285.4 L441.9,284.9 L442.0,284.4 L442.2,283.9 L442.4,283.4 L442.5,282.9 L442.7,282.4 L442.9,281.9 L443.1,281.4 L443.3,280.9 L443.5,280.4 L443.6,279.9 L443.7,279.4 L443.7,278.9 L443.6,278.4 L443.5,277.9 L443.5,277.4 L443.4,276.9 L443.4,276.4 L443.4,275.9 L443.3,275.4 L443.3,274.9 L443.3,274.4 L443.4,273.9 L443.4,273.4 L443.4,272.9 L443.5,272.4 L443.5,271.9 L443.6,271.4 L443.6,270.9 L443.7,270.4 L443.8,269.9 L443.9,269.4 L443.9,268.9 L444.0,268.4 L444.1,267.9Z" fill="#d8106c" stroke="#4a0420" stroke-width="0.62" stroke-linejoin="round"/>
<line x1="442.29" y1="283.6" x2="446.59" y2="283.6" stroke="#4a0420" stroke-width="0.55"/>
<line x1="441.49" y1="288.1" x2="447.39" y2="288.1" stroke="#4a0420" stroke-width="0.85"/>
<line x1="442.29" y1="292.74" x2="446.59" y2="292.74" stroke="#4a0420" stroke-width="0.55"/>
<line x1="455.5" y1="253.2" x2="455.5" y2="304.8" stroke="#585858" stroke-width="0.9"/>
<path d="M455.7,274.2 L455.8,274.7 L455.9,275.2 L456.0,275.7 L456.0,276.2 L456.1,276.7 L456.2,277.2 L456.3,277.7 L456.3,278.2 L456.3,278.7 L456.4,279.2 L456.4,279.7 L456.4,280.2 L456.4,280.7 L456.4,281.2 L456.3,281.7 L456.3,282.2 L456.2,282.7 L456.2,283.2 L456.2,283.7 L456.2,284.2 L456.4,284.7 L456.5,285.2 L456.7,285.7 L456.9,286.2 L457.1,286.7 L457.3,287.2 L457.4,287.7 L457.6,288.2 L457.7,288.7 L457.8,289.2 L457.9,289.7 L458.0,290.2 L458.0,290.7 L458.0,291.2 L458.0,291.7 L458.0,292.2 L457.8,292.7 L457.7,293.2 L457.5,293.7 L457.3,294.2 L457.0,294.7 L456.7,295.2 L456.4,295.7 L456.1,296.2 L455.9,296.7 L455.6,297.2 L455.0,297.2 L454.7,296.7 L454.4,296.2 L454.2,295.7 L453.9,295.2 L453.6,294.7 L453.3,294.2 L453.1,293.7 L452.9,293.2 L452.7,292.7 L452.6,292.2 L452.6,291.7 L452.5,291.2 L452.6,290.7 L452.6,290.2 L452.7,289.7 L452.8,289.2 L452.9,288.7 L453.0,288.2 L453.1,287.7 L453.3,287.2 L453.5,286.7 L453.7,286.2 L453.9,285.7 L454.0,285.2 L454.2,284.7 L454.3,284.2 L454.4,283.7 L454.4,283.2 L454.4,282.7 L454.3,282.2 L454.3,281.7 L454.2,281.2 L454.2,280.7 L454.2,280.2 L454.2,279.7 L454.2,279.2 L454.2,278.7 L454.3,278.2 L454.3,277.7 L454.4,277.2 L454.5,276.7 L454.5,276.2 L454.6,275.7 L454.7,275.2 L454.8,274.7 L454.9,274.2Z" fill="#d8106c" stroke="#4a0420" stroke-width="0.62" stroke-linejoin="round"/>
<line x1="453.29" y1="287.25" x2="457.29" y2="287.25" stroke="#4a0420" stroke-width="0.55"/>
<line x1="452.54" y1="291.3" x2="458.04" y2="291.3" stroke="#4a0420" stroke-width="0.85"/>
<line x1="453.29" y1="294.13" x2="457.29" y2="294.13" stroke="#4a0420" stroke-width="0.55"/>
<line x1="474.5" y1="271" x2="474.5" y2="301.6" stroke="#585858" stroke-width="0.9"/>
<path d="M474.7,280.0 L474.9,280.5 L475.1,281.0 L475.3,281.5 L475.4,282.0 L475.6,282.5 L475.8,283.0 L476.0,283.5 L476.1,284.0 L476.3,284.5 L476.4,285.0 L476.5,285.5 L476.6,286.0 L476.7,286.5 L476.7,287.0 L476.8,287.5 L476.8,288.0 L476.7,288.5 L476.7,289.0 L476.6,289.5 L476.6,290.0 L476.5,290.5 L476.4,291.0 L476.2,291.5 L476.1,292.0 L476.0,292.5 L475.8,293.0 L475.6,293.5 L475.4,294.0 L475.3,294.5 L475.1,295.0 L474.9,295.5 L474.8,296.0 L474.6,296.5 L474.0,296.5 L473.9,296.0 L473.7,295.5 L473.5,295.0 L473.3,294.5 L473.2,294.0 L473.0,293.5 L472.8,293.0 L472.7,292.5 L472.5,292.0 L472.4,291.5 L472.3,291.0 L472.1,290.5 L472.0,290.0 L472.0,289.5 L471.9,289.0 L471.9,288.5 L471.9,288.0 L471.9,287.5 L471.9,287.0 L471.9,286.5 L472.0,286.0 L472.1,285.5 L472.2,285.0 L472.3,284.5 L472.5,284.0 L472.6,283.5 L472.8,283.0 L473.0,282.5 L473.2,282.0 L473.4,281.5 L473.5,281.0 L473.7,280.5 L473.9,280.0Z" fill="#c0ca8e" stroke="#3e4318" stroke-width="0.62" stroke-linejoin="round"/>
<line x1="472.53" y1="283.84" x2="476.09" y2="283.84" stroke="#3e4318" stroke-width="0.55"/>
<line x1="471.86" y1="287.8" x2="476.76" y2="287.8" stroke="#3e4318" stroke-width="0.85"/>
<line x1="472.53" y1="292.03" x2="476.09" y2="292.03" stroke="#3e4318" stroke-width="0.55"/>
<line x1="485.5" y1="259.4" x2="485.5" y2="303.8" stroke="#585858" stroke-width="0.9"/>
<path d="M485.5,280.7 L485.7,281.2 L485.9,281.7 L486.0,282.2 L486.1,282.7 L486.2,283.2 L486.3,283.7 L486.3,284.2 L486.2,284.7 L486.1,285.2 L486.0,285.7 L485.8,286.2 L485.6,286.7 L485.5,287.2 L485.6,287.7 L486.0,288.2 L486.3,288.7 L486.7,289.2 L487.0,289.7 L487.3,290.2 L487.5,290.7 L487.7,291.2 L487.8,291.7 L487.8,292.2 L487.8,292.7 L487.7,293.2 L487.6,293.7 L487.4,294.2 L487.2,294.7 L487.0,295.2 L486.8,295.7 L486.5,296.2 L486.3,296.7 L486.0,297.2 L485.7,297.7 L485.5,298.2 L484.8,298.2 L484.6,297.7 L484.3,297.2 L484.1,296.7 L483.8,296.2 L483.5,295.7 L483.3,295.2 L483.1,294.7 L482.9,294.2 L482.7,293.7 L482.6,293.2 L482.5,292.7 L482.5,292.2 L482.5,291.7 L482.6,291.2 L482.8,290.7 L483.0,290.2 L483.3,289.7 L483.6,289.2 L484.0,288.7 L484.4,288.2 L484.7,287.7 L484.8,287.2 L484.7,286.7 L484.5,286.2 L484.3,285.7 L484.2,285.2 L484.1,284.7 L484.1,284.2 L484.1,283.7 L484.1,283.2 L484.2,282.7 L484.3,282.2 L484.5,281.7 L484.6,281.2 L484.8,280.7Z" fill="#c0ca8e" stroke="#3e4318" stroke-width="0.62" stroke-linejoin="round"/>
<line x1="483.23" y1="289.85" x2="487.09" y2="289.85" stroke="#3e4318" stroke-width="0.55"/>
<line x1="482.51" y1="292.1" x2="487.81" y2="292.1" stroke="#3e4318" stroke-width="0.85"/>
<line x1="483.23" y1="295.07" x2="487.09" y2="295.07" stroke="#3e4318" stroke-width="0.55"/>
<line x1="496.5" y1="265.2" x2="496.5" y2="303" stroke="#585858" stroke-width="0.9"/>
<path d="M496.4,277.3 L496.6,277.8 L496.9,278.3 L497.2,278.8 L497.5,279.3 L497.7,279.8 L498.0,280.3 L498.2,280.8 L498.4,281.3 L498.5,281.8 L498.5,282.3 L498.6,282.8 L498.5,283.3 L498.2,283.8 L497.9,284.3 L497.5,284.8 L497.0,285.3 L496.5,285.8 L495.5,285.8 L495.0,285.3 L494.6,284.8 L494.1,284.3 L493.8,283.8 L493.6,283.3 L493.5,282.8 L493.5,282.3 L493.5,281.8 L493.7,281.3 L493.8,280.8 L494.0,280.3 L494.3,279.8 L494.5,279.3 L494.8,278.8 L495.1,278.3 L495.4,277.8 L495.7,277.3Z" fill="#c0ca8e" stroke="#3e4318" stroke-width="0.62" stroke-linejoin="round"/>
<path d="M496.4,286.8 L496.7,287.3 L497.0,287.8 L497.4,288.3 L497.7,288.8 L498.0,289.3 L498.3,289.8 L498.5,290.3 L498.6,290.8 L498.7,291.3 L498.6,291.8 L498.6,292.3 L498.5,292.8 L498.4,293.3 L498.3,293.8 L498.1,294.3 L497.9,294.8 L497.7,295.3 L497.4,295.8 L497.2,296.3 L497.0,296.8 L496.7,297.3 L496.5,297.8 L495.5,297.8 L495.3,297.3 L495.1,296.8 L494.8,296.3 L494.6,295.8 L494.3,295.3 L494.1,294.8 L493.9,294.3 L493.8,293.8 L493.6,293.3 L493.5,292.8 L493.4,292.3 L493.4,291.8 L493.4,291.3 L493.4,290.8 L493.5,290.3 L493.7,289.8 L494.0,289.3 L494.3,288.8 L494.6,288.3 L495.0,287.8 L495.3,287.3 L495.7,286.8Z" fill="#c0ca8e" stroke="#3e4318" stroke-width="0.62" stroke-linejoin="round"/>
<line x1="494.08" y1="289.15" x2="497.94" y2="289.15" stroke="#3e4318" stroke-width="0.55"/>
<line x1="493.36" y1="291.4" x2="498.66" y2="291.4" stroke="#3e4318" stroke-width="0.85"/>
<line x1="494.08" y1="294.69" x2="497.94" y2="294.69" stroke="#3e4318" stroke-width="0.55"/>
<line x1="506.5" y1="267.4" x2="506.5" y2="303.8" stroke="#585858" stroke-width="0.9"/>
<path d="M507.2,280.0 L507.3,280.5 L507.5,281.0 L507.6,281.5 L507.7,282.0 L507.8,282.5 L507.9,283.0 L507.9,283.5 L508.0,284.0 L507.9,284.5 L507.9,285.0 L507.8,285.5 L507.6,286.0 L507.7,286.5 L507.9,287.0 L508.2,287.5 L508.5,288.0 L508.8,288.5 L509.1,289.0 L509.3,289.5 L509.5,290.0 L509.6,290.5 L509.7,291.0 L509.7,291.5 L509.7,292.0 L509.6,292.5 L509.5,293.0 L509.3,293.5 L509.1,294.0 L508.9,294.5 L508.6,295.0 L508.3,295.5 L508.0,296.0 L507.8,296.5 L507.5,297.0 L507.2,297.5 L506.5,297.5 L506.2,297.0 L506.0,296.5 L505.7,296.0 L505.4,295.5 L505.1,295.0 L504.8,294.5 L504.6,294.0 L504.4,293.5 L504.2,293.0 L504.1,292.5 L504.0,292.0 L504.0,291.5 L504.0,291.0 L504.1,290.5 L504.2,290.0 L504.4,289.5 L504.6,289.0 L504.9,288.5 L505.2,288.0 L505.5,287.5 L505.8,287.0 L506.0,286.5 L506.1,286.0 L506.0,285.5 L505.9,285.0 L505.8,284.5 L505.8,284.0 L505.8,283.5 L505.8,283.0 L505.9,282.5 L506.0,282.0 L506.1,281.5 L506.3,281.0 L506.4,280.5 L506.6,280.0Z" fill="#c0ca8e" stroke="#3e4318" stroke-width="0.62" stroke-linejoin="round"/>
<line x1="504.78" y1="288.7" x2="508.94" y2="288.7" stroke="#3e4318" stroke-width="0.55"/>
<line x1="504.01" y1="291.4" x2="509.71" y2="291.4" stroke="#3e4318" stroke-width="0.85"/>
<line x1="504.78" y1="294.37" x2="508.94" y2="294.37" stroke="#3e4318" stroke-width="0.55"/>
<text x="340" y="370.4" font-size="7.7" text-anchor="start" font-weight="normal" fill="#262626" textLength="27.3" lengthAdjust="spacingAndGlyphs">O-RBCs</text>
<rect x="372.7" y="365" width="8.6" height="5.4" fill="#eb9a1e" stroke="#5a3000" stroke-width="0.9"/>
<text x="384.7" y="370.4" font-size="7.7" text-anchor="start" font-weight="normal" fill="#262626" textLength="9.8" lengthAdjust="spacingAndGlyphs">TM</text>
<rect x="400.2" y="365" width="8.6" height="5.4" fill="#33a7dd" stroke="#0b3550" stroke-width="0.9"/>
<text x="412.2" y="370.4" font-size="7.7" text-anchor="start" font-weight="normal" fill="#262626" textLength="8.6" lengthAdjust="spacingAndGlyphs">TF</text>
<rect x="427.7" y="365" width="8.6" height="5.4" fill="#d8106c" stroke="#4a0420" stroke-width="0.9"/>
<text x="439.7" y="370.4" font-size="7.7" text-anchor="start" font-weight="normal" fill="#262626" textLength="11" lengthAdjust="spacingAndGlyphs">SM</text>
<rect x="455.2" y="365" width="8.6" height="5.4" fill="#c0ca8e" stroke="#3e4318" stroke-width="0.9"/>
<text x="467.2" y="370.4" font-size="7.7" text-anchor="start" font-weight="normal" fill="#262626" textLength="8.9" lengthAdjust="spacingAndGlyphs">SF</text>
<rect x="0" y="0" width="520" height="1" fill="#555"/>
<rect x="0" y="0" width="1" height="378" fill="#555"/>
<rect x="519" y="0" width="1" height="378" fill="#555"/>
<rect x="0" y="377" width="520" height="1" fill="#555"/>
</svg>
</body></html>
